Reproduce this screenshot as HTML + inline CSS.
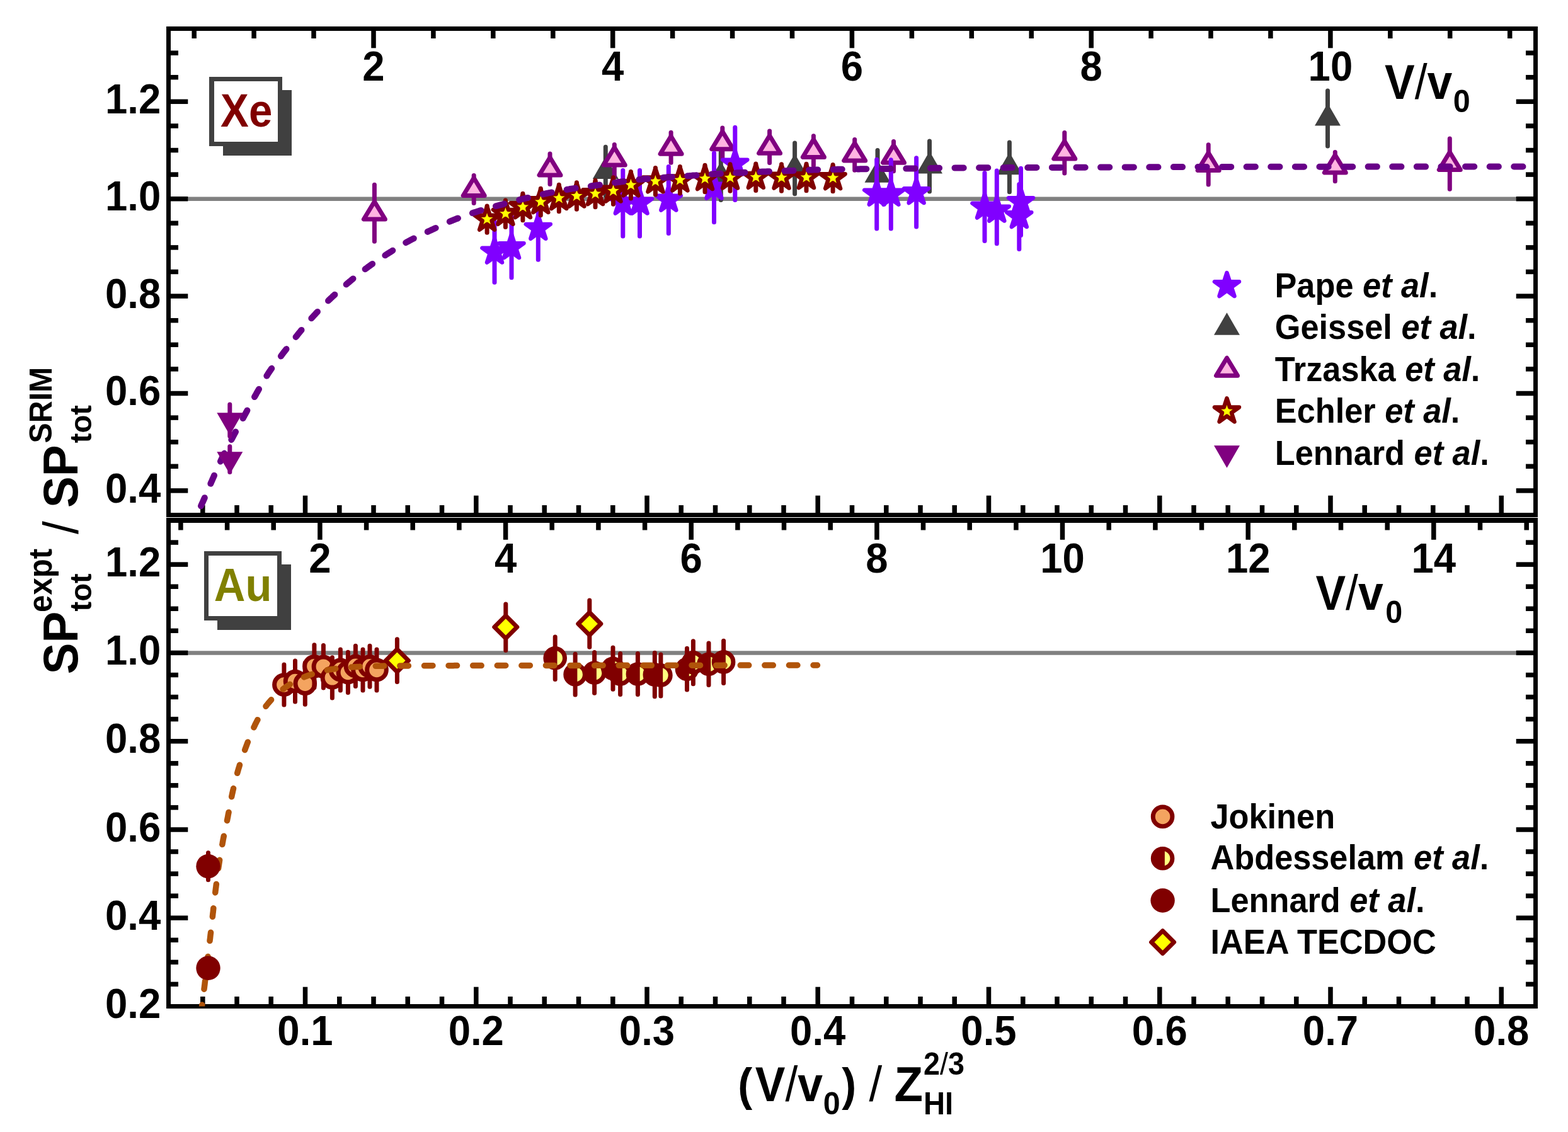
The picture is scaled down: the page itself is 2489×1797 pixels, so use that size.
<!DOCTYPE html>
<html><head><meta charset="utf-8"><title>Stopping power ratio SP expt / SP SRIM for Xe and Au ions</title>
<style>html,body{margin:0;padding:0;background:#fff;overflow:hidden;} svg{display:block;}</style>
</head><body>
<svg width="2489" height="1797" viewBox="0 0 2489 1797" font-family="'Liberation Sans',Arial,Helvetica,sans-serif" font-weight="bold">
<defs><clipPath id="ct"><rect x="267.5" y="45.5" width="2170" height="772"/></clipPath><clipPath id="cl"><rect x="267.5" y="826" width="2170" height="771.5"/></clipPath></defs>
<line x1="267.5" y1="315.7" x2="2437.5" y2="315.7" stroke="#808080" stroke-width="6.5"/>
<line x1="267.5" y1="1036.4" x2="2437.5" y2="1036.4" stroke="#808080" stroke-width="6.5"/>
<line x1="267.5" y1="778.9" x2="298.3" y2="778.9" stroke="#000" stroke-width="7.5"/>
<line x1="2437.5" y1="778.9" x2="2406.7" y2="778.9" stroke="#000" stroke-width="7.5"/>
<line x1="267.5" y1="740.3" x2="283.0" y2="740.3" stroke="#000" stroke-width="7.5"/>
<line x1="2437.5" y1="740.3" x2="2422.0" y2="740.3" stroke="#000" stroke-width="7.5"/>
<line x1="267.5" y1="701.7" x2="283.0" y2="701.7" stroke="#000" stroke-width="7.5"/>
<line x1="2437.5" y1="701.7" x2="2422.0" y2="701.7" stroke="#000" stroke-width="7.5"/>
<line x1="267.5" y1="663.1" x2="283.0" y2="663.1" stroke="#000" stroke-width="7.5"/>
<line x1="2437.5" y1="663.1" x2="2422.0" y2="663.1" stroke="#000" stroke-width="7.5"/>
<line x1="267.5" y1="624.5" x2="298.3" y2="624.5" stroke="#000" stroke-width="7.5"/>
<line x1="2437.5" y1="624.5" x2="2406.7" y2="624.5" stroke="#000" stroke-width="7.5"/>
<line x1="267.5" y1="585.9" x2="283.0" y2="585.9" stroke="#000" stroke-width="7.5"/>
<line x1="2437.5" y1="585.9" x2="2422.0" y2="585.9" stroke="#000" stroke-width="7.5"/>
<line x1="267.5" y1="547.3" x2="283.0" y2="547.3" stroke="#000" stroke-width="7.5"/>
<line x1="2437.5" y1="547.3" x2="2422.0" y2="547.3" stroke="#000" stroke-width="7.5"/>
<line x1="267.5" y1="508.7" x2="283.0" y2="508.7" stroke="#000" stroke-width="7.5"/>
<line x1="2437.5" y1="508.7" x2="2422.0" y2="508.7" stroke="#000" stroke-width="7.5"/>
<line x1="267.5" y1="470.1" x2="298.3" y2="470.1" stroke="#000" stroke-width="7.5"/>
<line x1="2437.5" y1="470.1" x2="2406.7" y2="470.1" stroke="#000" stroke-width="7.5"/>
<line x1="267.5" y1="431.5" x2="283.0" y2="431.5" stroke="#000" stroke-width="7.5"/>
<line x1="2437.5" y1="431.5" x2="2422.0" y2="431.5" stroke="#000" stroke-width="7.5"/>
<line x1="267.5" y1="392.9" x2="283.0" y2="392.9" stroke="#000" stroke-width="7.5"/>
<line x1="2437.5" y1="392.9" x2="2422.0" y2="392.9" stroke="#000" stroke-width="7.5"/>
<line x1="267.5" y1="354.3" x2="283.0" y2="354.3" stroke="#000" stroke-width="7.5"/>
<line x1="2437.5" y1="354.3" x2="2422.0" y2="354.3" stroke="#000" stroke-width="7.5"/>
<line x1="267.5" y1="315.7" x2="298.3" y2="315.7" stroke="#000" stroke-width="7.5"/>
<line x1="2437.5" y1="315.7" x2="2406.7" y2="315.7" stroke="#000" stroke-width="7.5"/>
<line x1="267.5" y1="277.1" x2="283.0" y2="277.1" stroke="#000" stroke-width="7.5"/>
<line x1="2437.5" y1="277.1" x2="2422.0" y2="277.1" stroke="#000" stroke-width="7.5"/>
<line x1="267.5" y1="238.5" x2="283.0" y2="238.5" stroke="#000" stroke-width="7.5"/>
<line x1="2437.5" y1="238.5" x2="2422.0" y2="238.5" stroke="#000" stroke-width="7.5"/>
<line x1="267.5" y1="199.9" x2="283.0" y2="199.9" stroke="#000" stroke-width="7.5"/>
<line x1="2437.5" y1="199.9" x2="2422.0" y2="199.9" stroke="#000" stroke-width="7.5"/>
<line x1="267.5" y1="161.3" x2="298.3" y2="161.3" stroke="#000" stroke-width="7.5"/>
<line x1="2437.5" y1="161.3" x2="2406.7" y2="161.3" stroke="#000" stroke-width="7.5"/>
<line x1="267.5" y1="122.7" x2="283.0" y2="122.7" stroke="#000" stroke-width="7.5"/>
<line x1="2437.5" y1="122.7" x2="2422.0" y2="122.7" stroke="#000" stroke-width="7.5"/>
<line x1="267.5" y1="84.1" x2="283.0" y2="84.1" stroke="#000" stroke-width="7.5"/>
<line x1="2437.5" y1="84.1" x2="2422.0" y2="84.1" stroke="#000" stroke-width="7.5"/>
<line x1="267.5" y1="1562.4" x2="283.0" y2="1562.4" stroke="#000" stroke-width="7.5"/>
<line x1="2437.5" y1="1562.4" x2="2422.0" y2="1562.4" stroke="#000" stroke-width="7.5"/>
<line x1="267.5" y1="1527.4" x2="283.0" y2="1527.4" stroke="#000" stroke-width="7.5"/>
<line x1="2437.5" y1="1527.4" x2="2422.0" y2="1527.4" stroke="#000" stroke-width="7.5"/>
<line x1="267.5" y1="1492.3" x2="283.0" y2="1492.3" stroke="#000" stroke-width="7.5"/>
<line x1="2437.5" y1="1492.3" x2="2422.0" y2="1492.3" stroke="#000" stroke-width="7.5"/>
<line x1="267.5" y1="1457.2" x2="298.3" y2="1457.2" stroke="#000" stroke-width="7.5"/>
<line x1="2437.5" y1="1457.2" x2="2406.7" y2="1457.2" stroke="#000" stroke-width="7.5"/>
<line x1="267.5" y1="1422.2" x2="283.0" y2="1422.2" stroke="#000" stroke-width="7.5"/>
<line x1="2437.5" y1="1422.2" x2="2422.0" y2="1422.2" stroke="#000" stroke-width="7.5"/>
<line x1="267.5" y1="1387.1" x2="283.0" y2="1387.1" stroke="#000" stroke-width="7.5"/>
<line x1="2437.5" y1="1387.1" x2="2422.0" y2="1387.1" stroke="#000" stroke-width="7.5"/>
<line x1="267.5" y1="1352.0" x2="283.0" y2="1352.0" stroke="#000" stroke-width="7.5"/>
<line x1="2437.5" y1="1352.0" x2="2422.0" y2="1352.0" stroke="#000" stroke-width="7.5"/>
<line x1="267.5" y1="1317.0" x2="298.3" y2="1317.0" stroke="#000" stroke-width="7.5"/>
<line x1="2437.5" y1="1317.0" x2="2406.7" y2="1317.0" stroke="#000" stroke-width="7.5"/>
<line x1="267.5" y1="1281.9" x2="283.0" y2="1281.9" stroke="#000" stroke-width="7.5"/>
<line x1="2437.5" y1="1281.9" x2="2422.0" y2="1281.9" stroke="#000" stroke-width="7.5"/>
<line x1="267.5" y1="1246.8" x2="283.0" y2="1246.8" stroke="#000" stroke-width="7.5"/>
<line x1="2437.5" y1="1246.8" x2="2422.0" y2="1246.8" stroke="#000" stroke-width="7.5"/>
<line x1="267.5" y1="1211.8" x2="283.0" y2="1211.8" stroke="#000" stroke-width="7.5"/>
<line x1="2437.5" y1="1211.8" x2="2422.0" y2="1211.8" stroke="#000" stroke-width="7.5"/>
<line x1="267.5" y1="1176.7" x2="298.3" y2="1176.7" stroke="#000" stroke-width="7.5"/>
<line x1="2437.5" y1="1176.7" x2="2406.7" y2="1176.7" stroke="#000" stroke-width="7.5"/>
<line x1="267.5" y1="1141.6" x2="283.0" y2="1141.6" stroke="#000" stroke-width="7.5"/>
<line x1="2437.5" y1="1141.6" x2="2422.0" y2="1141.6" stroke="#000" stroke-width="7.5"/>
<line x1="267.5" y1="1106.5" x2="283.0" y2="1106.5" stroke="#000" stroke-width="7.5"/>
<line x1="2437.5" y1="1106.5" x2="2422.0" y2="1106.5" stroke="#000" stroke-width="7.5"/>
<line x1="267.5" y1="1071.5" x2="283.0" y2="1071.5" stroke="#000" stroke-width="7.5"/>
<line x1="2437.5" y1="1071.5" x2="2422.0" y2="1071.5" stroke="#000" stroke-width="7.5"/>
<line x1="267.5" y1="1036.4" x2="298.3" y2="1036.4" stroke="#000" stroke-width="7.5"/>
<line x1="2437.5" y1="1036.4" x2="2406.7" y2="1036.4" stroke="#000" stroke-width="7.5"/>
<line x1="267.5" y1="1001.3" x2="283.0" y2="1001.3" stroke="#000" stroke-width="7.5"/>
<line x1="2437.5" y1="1001.3" x2="2422.0" y2="1001.3" stroke="#000" stroke-width="7.5"/>
<line x1="267.5" y1="966.3" x2="283.0" y2="966.3" stroke="#000" stroke-width="7.5"/>
<line x1="2437.5" y1="966.3" x2="2422.0" y2="966.3" stroke="#000" stroke-width="7.5"/>
<line x1="267.5" y1="931.2" x2="283.0" y2="931.2" stroke="#000" stroke-width="7.5"/>
<line x1="2437.5" y1="931.2" x2="2422.0" y2="931.2" stroke="#000" stroke-width="7.5"/>
<line x1="267.5" y1="896.1" x2="298.3" y2="896.1" stroke="#000" stroke-width="7.5"/>
<line x1="2437.5" y1="896.1" x2="2406.7" y2="896.1" stroke="#000" stroke-width="7.5"/>
<line x1="267.5" y1="861.1" x2="283.0" y2="861.1" stroke="#000" stroke-width="7.5"/>
<line x1="2437.5" y1="861.1" x2="2422.0" y2="861.1" stroke="#000" stroke-width="7.5"/>
<line x1="321.8" y1="817.5" x2="321.8" y2="802.0" stroke="#000" stroke-width="7.5"/>
<line x1="321.8" y1="1597.5" x2="321.8" y2="1582.0" stroke="#000" stroke-width="7.5"/>
<line x1="376.0" y1="817.5" x2="376.0" y2="802.0" stroke="#000" stroke-width="7.5"/>
<line x1="376.0" y1="1597.5" x2="376.0" y2="1582.0" stroke="#000" stroke-width="7.5"/>
<line x1="430.2" y1="817.5" x2="430.2" y2="802.0" stroke="#000" stroke-width="7.5"/>
<line x1="430.2" y1="1597.5" x2="430.2" y2="1582.0" stroke="#000" stroke-width="7.5"/>
<line x1="484.5" y1="817.5" x2="484.5" y2="786.7" stroke="#000" stroke-width="7.5"/>
<line x1="484.5" y1="1597.5" x2="484.5" y2="1566.7" stroke="#000" stroke-width="7.5"/>
<line x1="538.8" y1="817.5" x2="538.8" y2="802.0" stroke="#000" stroke-width="7.5"/>
<line x1="538.8" y1="1597.5" x2="538.8" y2="1582.0" stroke="#000" stroke-width="7.5"/>
<line x1="593.0" y1="817.5" x2="593.0" y2="802.0" stroke="#000" stroke-width="7.5"/>
<line x1="593.0" y1="1597.5" x2="593.0" y2="1582.0" stroke="#000" stroke-width="7.5"/>
<line x1="647.2" y1="817.5" x2="647.2" y2="802.0" stroke="#000" stroke-width="7.5"/>
<line x1="647.2" y1="1597.5" x2="647.2" y2="1582.0" stroke="#000" stroke-width="7.5"/>
<line x1="701.5" y1="817.5" x2="701.5" y2="802.0" stroke="#000" stroke-width="7.5"/>
<line x1="701.5" y1="1597.5" x2="701.5" y2="1582.0" stroke="#000" stroke-width="7.5"/>
<line x1="755.8" y1="817.5" x2="755.8" y2="786.7" stroke="#000" stroke-width="7.5"/>
<line x1="755.8" y1="1597.5" x2="755.8" y2="1566.7" stroke="#000" stroke-width="7.5"/>
<line x1="810.0" y1="817.5" x2="810.0" y2="802.0" stroke="#000" stroke-width="7.5"/>
<line x1="810.0" y1="1597.5" x2="810.0" y2="1582.0" stroke="#000" stroke-width="7.5"/>
<line x1="864.2" y1="817.5" x2="864.2" y2="802.0" stroke="#000" stroke-width="7.5"/>
<line x1="864.2" y1="1597.5" x2="864.2" y2="1582.0" stroke="#000" stroke-width="7.5"/>
<line x1="918.5" y1="817.5" x2="918.5" y2="802.0" stroke="#000" stroke-width="7.5"/>
<line x1="918.5" y1="1597.5" x2="918.5" y2="1582.0" stroke="#000" stroke-width="7.5"/>
<line x1="972.8" y1="817.5" x2="972.8" y2="802.0" stroke="#000" stroke-width="7.5"/>
<line x1="972.8" y1="1597.5" x2="972.8" y2="1582.0" stroke="#000" stroke-width="7.5"/>
<line x1="1027.0" y1="817.5" x2="1027.0" y2="786.7" stroke="#000" stroke-width="7.5"/>
<line x1="1027.0" y1="1597.5" x2="1027.0" y2="1566.7" stroke="#000" stroke-width="7.5"/>
<line x1="1081.2" y1="817.5" x2="1081.2" y2="802.0" stroke="#000" stroke-width="7.5"/>
<line x1="1081.2" y1="1597.5" x2="1081.2" y2="1582.0" stroke="#000" stroke-width="7.5"/>
<line x1="1135.5" y1="817.5" x2="1135.5" y2="802.0" stroke="#000" stroke-width="7.5"/>
<line x1="1135.5" y1="1597.5" x2="1135.5" y2="1582.0" stroke="#000" stroke-width="7.5"/>
<line x1="1189.8" y1="817.5" x2="1189.8" y2="802.0" stroke="#000" stroke-width="7.5"/>
<line x1="1189.8" y1="1597.5" x2="1189.8" y2="1582.0" stroke="#000" stroke-width="7.5"/>
<line x1="1244.0" y1="817.5" x2="1244.0" y2="802.0" stroke="#000" stroke-width="7.5"/>
<line x1="1244.0" y1="1597.5" x2="1244.0" y2="1582.0" stroke="#000" stroke-width="7.5"/>
<line x1="1298.2" y1="817.5" x2="1298.2" y2="786.7" stroke="#000" stroke-width="7.5"/>
<line x1="1298.2" y1="1597.5" x2="1298.2" y2="1566.7" stroke="#000" stroke-width="7.5"/>
<line x1="1352.5" y1="817.5" x2="1352.5" y2="802.0" stroke="#000" stroke-width="7.5"/>
<line x1="1352.5" y1="1597.5" x2="1352.5" y2="1582.0" stroke="#000" stroke-width="7.5"/>
<line x1="1406.8" y1="817.5" x2="1406.8" y2="802.0" stroke="#000" stroke-width="7.5"/>
<line x1="1406.8" y1="1597.5" x2="1406.8" y2="1582.0" stroke="#000" stroke-width="7.5"/>
<line x1="1461.0" y1="817.5" x2="1461.0" y2="802.0" stroke="#000" stroke-width="7.5"/>
<line x1="1461.0" y1="1597.5" x2="1461.0" y2="1582.0" stroke="#000" stroke-width="7.5"/>
<line x1="1515.2" y1="817.5" x2="1515.2" y2="802.0" stroke="#000" stroke-width="7.5"/>
<line x1="1515.2" y1="1597.5" x2="1515.2" y2="1582.0" stroke="#000" stroke-width="7.5"/>
<line x1="1569.5" y1="817.5" x2="1569.5" y2="786.7" stroke="#000" stroke-width="7.5"/>
<line x1="1569.5" y1="1597.5" x2="1569.5" y2="1566.7" stroke="#000" stroke-width="7.5"/>
<line x1="1623.8" y1="817.5" x2="1623.8" y2="802.0" stroke="#000" stroke-width="7.5"/>
<line x1="1623.8" y1="1597.5" x2="1623.8" y2="1582.0" stroke="#000" stroke-width="7.5"/>
<line x1="1678.0" y1="817.5" x2="1678.0" y2="802.0" stroke="#000" stroke-width="7.5"/>
<line x1="1678.0" y1="1597.5" x2="1678.0" y2="1582.0" stroke="#000" stroke-width="7.5"/>
<line x1="1732.2" y1="817.5" x2="1732.2" y2="802.0" stroke="#000" stroke-width="7.5"/>
<line x1="1732.2" y1="1597.5" x2="1732.2" y2="1582.0" stroke="#000" stroke-width="7.5"/>
<line x1="1786.5" y1="817.5" x2="1786.5" y2="802.0" stroke="#000" stroke-width="7.5"/>
<line x1="1786.5" y1="1597.5" x2="1786.5" y2="1582.0" stroke="#000" stroke-width="7.5"/>
<line x1="1840.8" y1="817.5" x2="1840.8" y2="786.7" stroke="#000" stroke-width="7.5"/>
<line x1="1840.8" y1="1597.5" x2="1840.8" y2="1566.7" stroke="#000" stroke-width="7.5"/>
<line x1="1895.0" y1="817.5" x2="1895.0" y2="802.0" stroke="#000" stroke-width="7.5"/>
<line x1="1895.0" y1="1597.5" x2="1895.0" y2="1582.0" stroke="#000" stroke-width="7.5"/>
<line x1="1949.2" y1="817.5" x2="1949.2" y2="802.0" stroke="#000" stroke-width="7.5"/>
<line x1="1949.2" y1="1597.5" x2="1949.2" y2="1582.0" stroke="#000" stroke-width="7.5"/>
<line x1="2003.5" y1="817.5" x2="2003.5" y2="802.0" stroke="#000" stroke-width="7.5"/>
<line x1="2003.5" y1="1597.5" x2="2003.5" y2="1582.0" stroke="#000" stroke-width="7.5"/>
<line x1="2057.8" y1="817.5" x2="2057.8" y2="802.0" stroke="#000" stroke-width="7.5"/>
<line x1="2057.8" y1="1597.5" x2="2057.8" y2="1582.0" stroke="#000" stroke-width="7.5"/>
<line x1="2112.0" y1="817.5" x2="2112.0" y2="786.7" stroke="#000" stroke-width="7.5"/>
<line x1="2112.0" y1="1597.5" x2="2112.0" y2="1566.7" stroke="#000" stroke-width="7.5"/>
<line x1="2166.2" y1="817.5" x2="2166.2" y2="802.0" stroke="#000" stroke-width="7.5"/>
<line x1="2166.2" y1="1597.5" x2="2166.2" y2="1582.0" stroke="#000" stroke-width="7.5"/>
<line x1="2220.5" y1="817.5" x2="2220.5" y2="802.0" stroke="#000" stroke-width="7.5"/>
<line x1="2220.5" y1="1597.5" x2="2220.5" y2="1582.0" stroke="#000" stroke-width="7.5"/>
<line x1="2274.8" y1="817.5" x2="2274.8" y2="802.0" stroke="#000" stroke-width="7.5"/>
<line x1="2274.8" y1="1597.5" x2="2274.8" y2="1582.0" stroke="#000" stroke-width="7.5"/>
<line x1="2329.0" y1="817.5" x2="2329.0" y2="802.0" stroke="#000" stroke-width="7.5"/>
<line x1="2329.0" y1="1597.5" x2="2329.0" y2="1582.0" stroke="#000" stroke-width="7.5"/>
<line x1="2383.2" y1="817.5" x2="2383.2" y2="786.7" stroke="#000" stroke-width="7.5"/>
<line x1="2383.2" y1="1597.5" x2="2383.2" y2="1566.7" stroke="#000" stroke-width="7.5"/>
<line x1="308.2" y1="45.5" x2="308.2" y2="61.0" stroke="#000" stroke-width="7.5"/>
<line x1="403.1" y1="45.5" x2="403.1" y2="61.0" stroke="#000" stroke-width="7.5"/>
<line x1="498.0" y1="45.5" x2="498.0" y2="61.0" stroke="#000" stroke-width="7.5"/>
<line x1="593.0" y1="45.5" x2="593.0" y2="76.3" stroke="#000" stroke-width="7.5"/>
<line x1="687.9" y1="45.5" x2="687.9" y2="61.0" stroke="#000" stroke-width="7.5"/>
<line x1="782.8" y1="45.5" x2="782.8" y2="61.0" stroke="#000" stroke-width="7.5"/>
<line x1="877.8" y1="45.5" x2="877.8" y2="61.0" stroke="#000" stroke-width="7.5"/>
<line x1="972.7" y1="45.5" x2="972.7" y2="76.3" stroke="#000" stroke-width="7.5"/>
<line x1="1067.6" y1="45.5" x2="1067.6" y2="61.0" stroke="#000" stroke-width="7.5"/>
<line x1="1162.6" y1="45.5" x2="1162.6" y2="61.0" stroke="#000" stroke-width="7.5"/>
<line x1="1257.5" y1="45.5" x2="1257.5" y2="61.0" stroke="#000" stroke-width="7.5"/>
<line x1="1352.4" y1="45.5" x2="1352.4" y2="76.3" stroke="#000" stroke-width="7.5"/>
<line x1="1447.4" y1="45.5" x2="1447.4" y2="61.0" stroke="#000" stroke-width="7.5"/>
<line x1="1542.3" y1="45.5" x2="1542.3" y2="61.0" stroke="#000" stroke-width="7.5"/>
<line x1="1637.2" y1="45.5" x2="1637.2" y2="61.0" stroke="#000" stroke-width="7.5"/>
<line x1="1732.2" y1="45.5" x2="1732.2" y2="76.3" stroke="#000" stroke-width="7.5"/>
<line x1="1827.1" y1="45.5" x2="1827.1" y2="61.0" stroke="#000" stroke-width="7.5"/>
<line x1="1922.0" y1="45.5" x2="1922.0" y2="61.0" stroke="#000" stroke-width="7.5"/>
<line x1="2016.9" y1="45.5" x2="2016.9" y2="61.0" stroke="#000" stroke-width="7.5"/>
<line x1="2111.9" y1="45.5" x2="2111.9" y2="76.3" stroke="#000" stroke-width="7.5"/>
<line x1="2206.8" y1="45.5" x2="2206.8" y2="61.0" stroke="#000" stroke-width="7.5"/>
<line x1="2301.7" y1="45.5" x2="2301.7" y2="61.0" stroke="#000" stroke-width="7.5"/>
<line x1="2396.7" y1="45.5" x2="2396.7" y2="61.0" stroke="#000" stroke-width="7.5"/>
<line x1="286.9" y1="826.0" x2="286.9" y2="841.5" stroke="#000" stroke-width="7.5"/>
<line x1="360.6" y1="826.0" x2="360.6" y2="841.5" stroke="#000" stroke-width="7.5"/>
<line x1="434.2" y1="826.0" x2="434.2" y2="841.5" stroke="#000" stroke-width="7.5"/>
<line x1="507.9" y1="826.0" x2="507.9" y2="856.8" stroke="#000" stroke-width="7.5"/>
<line x1="581.6" y1="826.0" x2="581.6" y2="841.5" stroke="#000" stroke-width="7.5"/>
<line x1="655.2" y1="826.0" x2="655.2" y2="841.5" stroke="#000" stroke-width="7.5"/>
<line x1="728.9" y1="826.0" x2="728.9" y2="841.5" stroke="#000" stroke-width="7.5"/>
<line x1="802.6" y1="826.0" x2="802.6" y2="856.8" stroke="#000" stroke-width="7.5"/>
<line x1="876.2" y1="826.0" x2="876.2" y2="841.5" stroke="#000" stroke-width="7.5"/>
<line x1="949.9" y1="826.0" x2="949.9" y2="841.5" stroke="#000" stroke-width="7.5"/>
<line x1="1023.6" y1="826.0" x2="1023.6" y2="841.5" stroke="#000" stroke-width="7.5"/>
<line x1="1097.2" y1="826.0" x2="1097.2" y2="856.8" stroke="#000" stroke-width="7.5"/>
<line x1="1170.9" y1="826.0" x2="1170.9" y2="841.5" stroke="#000" stroke-width="7.5"/>
<line x1="1244.5" y1="826.0" x2="1244.5" y2="841.5" stroke="#000" stroke-width="7.5"/>
<line x1="1318.2" y1="826.0" x2="1318.2" y2="841.5" stroke="#000" stroke-width="7.5"/>
<line x1="1391.9" y1="826.0" x2="1391.9" y2="856.8" stroke="#000" stroke-width="7.5"/>
<line x1="1465.5" y1="826.0" x2="1465.5" y2="841.5" stroke="#000" stroke-width="7.5"/>
<line x1="1539.2" y1="826.0" x2="1539.2" y2="841.5" stroke="#000" stroke-width="7.5"/>
<line x1="1612.9" y1="826.0" x2="1612.9" y2="841.5" stroke="#000" stroke-width="7.5"/>
<line x1="1686.5" y1="826.0" x2="1686.5" y2="856.8" stroke="#000" stroke-width="7.5"/>
<line x1="1760.2" y1="826.0" x2="1760.2" y2="841.5" stroke="#000" stroke-width="7.5"/>
<line x1="1833.9" y1="826.0" x2="1833.9" y2="841.5" stroke="#000" stroke-width="7.5"/>
<line x1="1907.5" y1="826.0" x2="1907.5" y2="841.5" stroke="#000" stroke-width="7.5"/>
<line x1="1981.2" y1="826.0" x2="1981.2" y2="856.8" stroke="#000" stroke-width="7.5"/>
<line x1="2054.8" y1="826.0" x2="2054.8" y2="841.5" stroke="#000" stroke-width="7.5"/>
<line x1="2128.5" y1="826.0" x2="2128.5" y2="841.5" stroke="#000" stroke-width="7.5"/>
<line x1="2202.2" y1="826.0" x2="2202.2" y2="841.5" stroke="#000" stroke-width="7.5"/>
<line x1="2275.8" y1="826.0" x2="2275.8" y2="856.8" stroke="#000" stroke-width="7.5"/>
<line x1="2349.5" y1="826.0" x2="2349.5" y2="841.5" stroke="#000" stroke-width="7.5"/>
<line x1="2423.2" y1="826.0" x2="2423.2" y2="841.5" stroke="#000" stroke-width="7.5"/>
<rect x="267.5" y="45.5" width="2170.0" height="772.0" fill="none" stroke="#000" stroke-width="7"/>
<rect x="267.5" y="826.0" width="2170.0" height="771.5" fill="none" stroke="#000" stroke-width="7"/>
<line x1="264.0" y1="826.0" x2="2441.0" y2="826.0" stroke="#000" stroke-width="8"/>
<g clip-path="url(#ct)">
<line x1="961.3" y1="233.2" x2="961.3" y2="310.5" stroke="#404040" stroke-width="7" stroke-linecap="round"/>
<polygon points="961.3,248.5 940.8,284.0 981.8,284.0" fill="#404040"/>
<line x1="1144.3" y1="241.8" x2="1144.3" y2="317.6" stroke="#404040" stroke-width="7" stroke-linecap="round"/>
<polygon points="1144.3,256.2 1123.8,291.7 1164.8,291.7" fill="#404040"/>
<line x1="1261.6" y1="226.9" x2="1261.6" y2="307.8" stroke="#404040" stroke-width="7" stroke-linecap="round"/>
<polygon points="1261.6,243.9 1241.1,279.4 1282.1,279.4" fill="#404040"/>
<line x1="1393.0" y1="238.4" x2="1393.0" y2="317.2" stroke="#404040" stroke-width="7" stroke-linecap="round"/>
<polygon points="1393.0,254.3 1372.5,289.8 1413.5,289.8" fill="#404040"/>
<line x1="1475.5" y1="223.9" x2="1475.5" y2="303.9" stroke="#404040" stroke-width="7" stroke-linecap="round"/>
<polygon points="1475.5,240.1 1455.0,275.6 1496.0,275.6" fill="#404040"/>
<line x1="1602.4" y1="226.1" x2="1602.4" y2="304.8" stroke="#404040" stroke-width="7" stroke-linecap="round"/>
<polygon points="1602.4,241.8 1581.9,277.3 1622.9,277.3" fill="#404040"/>
<line x1="2107.5" y1="143.9" x2="2107.5" y2="231.9" stroke="#404040" stroke-width="7" stroke-linecap="round"/>
<polygon points="2107.5,163.9 2087.0,199.4 2128.0,199.4" fill="#404040"/>
<line x1="594.4" y1="293.3" x2="594.4" y2="383.3" stroke="#800080" stroke-width="7" stroke-linecap="round"/>
<polygon points="594.4,320.0 577.4,348.0 611.4,348.0" fill="#ffb4e1" stroke="#800080" stroke-width="7" stroke-linejoin="round"/>
<line x1="752.2" y1="278.5" x2="752.2" y2="322.6" stroke="#800080" stroke-width="7" stroke-linecap="round"/>
<polygon points="752.2,282.5 735.2,310.5 769.2,310.5" fill="#ffb4e1" stroke="#800080" stroke-width="7" stroke-linejoin="round"/>
<line x1="873.0" y1="244.1" x2="873.0" y2="292.6" stroke="#800080" stroke-width="7" stroke-linecap="round"/>
<polygon points="873.0,250.0 856.0,278.0 890.0,278.0" fill="#ffb4e1" stroke="#800080" stroke-width="7" stroke-linejoin="round"/>
<line x1="975.3" y1="229.4" x2="975.3" y2="279.5" stroke="#800080" stroke-width="7" stroke-linecap="round"/>
<polygon points="975.3,234.0 958.3,262.0 992.3,262.0" fill="#ffb4e1" stroke="#800080" stroke-width="7" stroke-linejoin="round"/>
<line x1="1065.1" y1="210.3" x2="1065.1" y2="258.3" stroke="#800080" stroke-width="7" stroke-linecap="round"/>
<polygon points="1065.1,216.3 1048.1,244.3 1082.1,244.3" fill="#ffb4e1" stroke="#800080" stroke-width="7" stroke-linejoin="round"/>
<line x1="1146.8" y1="203.0" x2="1146.8" y2="250.6" stroke="#800080" stroke-width="7" stroke-linecap="round"/>
<polygon points="1146.8,208.8 1129.8,236.8 1163.8,236.8" fill="#ffb4e1" stroke="#800080" stroke-width="7" stroke-linejoin="round"/>
<line x1="1221.6" y1="207.9" x2="1221.6" y2="258.6" stroke="#800080" stroke-width="7" stroke-linecap="round"/>
<polygon points="1221.6,215.2 1204.6,243.2 1238.6,243.2" fill="#ffb4e1" stroke="#800080" stroke-width="7" stroke-linejoin="round"/>
<line x1="1291.4" y1="215.7" x2="1291.4" y2="263.1" stroke="#800080" stroke-width="7" stroke-linecap="round"/>
<polygon points="1291.4,221.4 1274.4,249.4 1308.4,249.4" fill="#ffb4e1" stroke="#800080" stroke-width="7" stroke-linejoin="round"/>
<line x1="1356.7" y1="221.6" x2="1356.7" y2="270.3" stroke="#800080" stroke-width="7" stroke-linecap="round"/>
<polygon points="1356.7,227.0 1339.7,255.0 1373.7,255.0" fill="#ffb4e1" stroke="#800080" stroke-width="7" stroke-linejoin="round"/>
<line x1="1418.5" y1="224.6" x2="1418.5" y2="271.8" stroke="#800080" stroke-width="7" stroke-linecap="round"/>
<polygon points="1418.5,230.2 1401.5,258.2 1435.5,258.2" fill="#ffb4e1" stroke="#800080" stroke-width="7" stroke-linejoin="round"/>
<line x1="1689.8" y1="210.4" x2="1689.8" y2="275.1" stroke="#800080" stroke-width="7" stroke-linecap="round"/>
<polygon points="1689.8,224.0 1672.8,252.0 1706.8,252.0" fill="#ffb4e1" stroke="#800080" stroke-width="7" stroke-linejoin="round"/>
<line x1="1918.2" y1="229.8" x2="1918.2" y2="293.0" stroke="#800080" stroke-width="7" stroke-linecap="round"/>
<polygon points="1918.2,242.5 1901.2,270.5 1935.2,270.5" fill="#ffb4e1" stroke="#800080" stroke-width="7" stroke-linejoin="round"/>
<line x1="2119.3" y1="241.5" x2="2119.3" y2="287.8" stroke="#800080" stroke-width="7" stroke-linecap="round"/>
<polygon points="2119.3,246.0 2102.3,274.0 2136.3,274.0" fill="#ffb4e1" stroke="#800080" stroke-width="7" stroke-linejoin="round"/>
<line x1="2301.3" y1="219.9" x2="2301.3" y2="300.3" stroke="#800080" stroke-width="7" stroke-linecap="round"/>
<polygon points="2301.3,241.5 2284.3,269.5 2318.3,269.5" fill="#ffb4e1" stroke="#800080" stroke-width="7" stroke-linejoin="round"/>
<line x1="785.0" y1="351.8" x2="785.0" y2="448.2" stroke="#8000ff" stroke-width="7" stroke-linecap="round"/>
<polygon points="785.0,379.5 789.6,393.7 804.5,393.7 792.4,402.4 797.0,416.6 785.0,407.8 773.0,416.6 777.6,402.4 765.5,393.7 780.4,393.7" fill="#8000ff" stroke="#8000ff" stroke-width="6.5" stroke-linejoin="round"/>
<line x1="812.0" y1="344.3" x2="812.0" y2="440.7" stroke="#8000ff" stroke-width="7" stroke-linecap="round"/>
<polygon points="812.0,372.0 816.6,386.2 831.5,386.2 819.4,394.9 824.0,409.1 812.0,400.3 800.0,409.1 804.6,394.9 792.5,386.2 807.4,386.2" fill="#8000ff" stroke="#8000ff" stroke-width="6.5" stroke-linejoin="round"/>
<line x1="854.3" y1="312.2" x2="854.3" y2="412.2" stroke="#8000ff" stroke-width="7" stroke-linecap="round"/>
<polygon points="854.3,341.7 858.9,355.9 873.8,355.9 861.7,364.6 866.3,378.8 854.3,370.0 842.3,378.8 846.9,364.6 834.8,355.9 849.7,355.9" fill="#8000ff" stroke="#8000ff" stroke-width="6.5" stroke-linejoin="round"/>
<line x1="988.8" y1="270.6" x2="988.8" y2="375.0" stroke="#8000ff" stroke-width="7" stroke-linecap="round"/>
<polygon points="988.8,301.5 993.4,315.7 1008.3,315.7 996.2,324.4 1000.8,338.6 988.8,329.8 976.8,338.6 981.4,324.4 969.3,315.7 984.2,315.7" fill="#8000ff" stroke="#8000ff" stroke-width="6.5" stroke-linejoin="round"/>
<line x1="1015.5" y1="270.6" x2="1015.5" y2="375.0" stroke="#8000ff" stroke-width="7" stroke-linecap="round"/>
<polygon points="1015.5,301.5 1020.1,315.7 1035.0,315.7 1022.9,324.4 1027.5,338.6 1015.5,329.8 1003.5,338.6 1008.1,324.4 996.0,315.7 1010.9,315.7" fill="#8000ff" stroke="#8000ff" stroke-width="6.5" stroke-linejoin="round"/>
<line x1="1061.3" y1="264.5" x2="1061.3" y2="370.5" stroke="#8000ff" stroke-width="7" stroke-linecap="round"/>
<polygon points="1061.3,296.5 1065.9,310.7 1080.8,310.7 1068.7,319.4 1073.3,333.6 1061.3,324.8 1049.3,333.6 1053.9,319.4 1041.8,310.7 1056.7,310.7" fill="#8000ff" stroke="#8000ff" stroke-width="6.5" stroke-linejoin="round"/>
<line x1="1133.5" y1="243.1" x2="1133.5" y2="352.7" stroke="#8000ff" stroke-width="7" stroke-linecap="round"/>
<polygon points="1133.5,277.5 1138.1,291.7 1153.0,291.7 1140.9,300.4 1145.5,314.6 1133.5,305.8 1121.5,314.6 1126.1,300.4 1114.0,291.7 1128.9,291.7" fill="#8000ff" stroke="#8000ff" stroke-width="6.5" stroke-linejoin="round"/>
<line x1="1166.8" y1="202.3" x2="1166.8" y2="317.6" stroke="#8000ff" stroke-width="7" stroke-linecap="round"/>
<polygon points="1166.8,239.5 1171.4,253.7 1186.3,253.7 1174.2,262.4 1178.8,276.6 1166.8,267.8 1154.8,276.6 1159.4,262.4 1147.3,253.7 1162.2,253.7" fill="#8000ff" stroke="#8000ff" stroke-width="6.5" stroke-linejoin="round"/>
<line x1="1391.7" y1="253.3" x2="1391.7" y2="363.1" stroke="#8000ff" stroke-width="7" stroke-linecap="round"/>
<polygon points="1391.7,287.5 1396.3,301.7 1411.2,301.7 1399.1,310.4 1403.7,324.6 1391.7,315.8 1379.7,324.6 1384.3,310.4 1372.2,301.7 1387.1,301.7" fill="#8000ff" stroke="#8000ff" stroke-width="6.5" stroke-linejoin="round"/>
<line x1="1414.3" y1="253.8" x2="1414.3" y2="363.1" stroke="#8000ff" stroke-width="7" stroke-linecap="round"/>
<polygon points="1414.3,287.6 1418.9,301.8 1433.8,301.8 1421.7,310.5 1426.3,324.7 1414.3,315.9 1402.3,324.7 1406.9,310.5 1394.8,301.8 1409.7,301.8" fill="#8000ff" stroke="#8000ff" stroke-width="6.5" stroke-linejoin="round"/>
<line x1="1454.6" y1="250.8" x2="1454.6" y2="360.1" stroke="#8000ff" stroke-width="7" stroke-linecap="round"/>
<polygon points="1454.6,285.0 1459.2,299.2 1474.1,299.2 1462.0,307.9 1466.6,322.1 1454.6,313.3 1442.6,322.1 1447.2,307.9 1435.1,299.2 1450.0,299.2" fill="#8000ff" stroke="#8000ff" stroke-width="6.5" stroke-linejoin="round"/>
<line x1="1563.0" y1="274.5" x2="1563.0" y2="382.5" stroke="#8000ff" stroke-width="7" stroke-linecap="round"/>
<polygon points="1563.0,308.5 1567.6,322.7 1582.5,322.7 1570.4,331.4 1575.0,345.6 1563.0,336.8 1551.0,345.6 1555.6,331.4 1543.5,322.7 1558.4,322.7" fill="#8000ff" stroke="#8000ff" stroke-width="6.5" stroke-linejoin="round"/>
<line x1="1582.3" y1="271.1" x2="1582.3" y2="386.8" stroke="#8000ff" stroke-width="7" stroke-linecap="round"/>
<polygon points="1582.3,313.5 1586.9,327.7 1601.8,327.7 1589.7,336.4 1594.3,350.6 1582.3,341.8 1570.3,350.6 1574.9,336.4 1562.8,327.7 1577.7,327.7" fill="#8000ff" stroke="#8000ff" stroke-width="6.5" stroke-linejoin="round"/>
<line x1="1620.5" y1="267.2" x2="1620.5" y2="373.5" stroke="#8000ff" stroke-width="7" stroke-linecap="round"/>
<polygon points="1620.5,300.0 1625.1,314.2 1640.0,314.2 1627.9,322.9 1632.5,337.1 1620.5,328.3 1608.5,337.1 1613.1,322.9 1601.0,314.2 1615.9,314.2" fill="#8000ff" stroke="#8000ff" stroke-width="6.5" stroke-linejoin="round"/>
<line x1="1617.8" y1="292.5" x2="1617.8" y2="395.5" stroke="#8000ff" stroke-width="7" stroke-linecap="round"/>
<polygon points="1617.8,323.0 1622.4,337.2 1637.3,337.2 1625.2,345.9 1629.8,360.1 1617.8,351.3 1605.8,360.1 1610.4,345.9 1598.3,337.2 1613.2,337.2" fill="#8000ff" stroke="#8000ff" stroke-width="6.5" stroke-linejoin="round"/>
<line x1="773.1" y1="326.9" x2="773.1" y2="369.3" stroke="#800000" stroke-width="7" stroke-linecap="round"/>
<polygon points="773.1,327.6 777.7,341.8 792.6,341.8 780.5,350.5 785.1,364.7 773.1,355.9 761.1,364.7 765.7,350.5 753.6,341.8 768.5,341.8" fill="#ffff00" stroke="#800000" stroke-width="6.5" stroke-linejoin="round"/>
<line x1="802.4" y1="318.0" x2="802.4" y2="360.4" stroke="#800000" stroke-width="7" stroke-linecap="round"/>
<polygon points="802.4,318.7 807.0,332.9 821.9,332.9 809.8,341.6 814.4,355.8 802.4,347.0 790.4,355.8 795.0,341.6 782.9,332.9 797.8,332.9" fill="#ffff00" stroke="#800000" stroke-width="6.5" stroke-linejoin="round"/>
<line x1="829.9" y1="307.3" x2="829.9" y2="349.7" stroke="#800000" stroke-width="7" stroke-linecap="round"/>
<polygon points="829.9,308.0 834.5,322.2 849.4,322.2 837.3,330.9 841.9,345.1 829.9,336.3 817.9,345.1 822.5,330.9 810.4,322.2 825.3,322.2" fill="#ffff00" stroke="#800000" stroke-width="6.5" stroke-linejoin="round"/>
<line x1="858.3" y1="299.3" x2="858.3" y2="341.7" stroke="#800000" stroke-width="7" stroke-linecap="round"/>
<polygon points="858.3,300.0 862.9,314.2 877.8,314.2 865.7,322.9 870.3,337.1 858.3,328.3 846.3,337.1 850.9,322.9 838.8,314.2 853.7,314.2" fill="#ffff00" stroke="#800000" stroke-width="6.5" stroke-linejoin="round"/>
<line x1="887.3" y1="293.3" x2="887.3" y2="335.7" stroke="#800000" stroke-width="7" stroke-linecap="round"/>
<polygon points="887.3,294.0 891.9,308.2 906.8,308.2 894.7,316.9 899.3,331.1 887.3,322.3 875.3,331.1 879.9,316.9 867.8,308.2 882.7,308.2" fill="#ffff00" stroke="#800000" stroke-width="6.5" stroke-linejoin="round"/>
<line x1="915.4" y1="289.8" x2="915.4" y2="332.2" stroke="#800000" stroke-width="7" stroke-linecap="round"/>
<polygon points="915.4,290.5 920.0,304.7 934.9,304.7 922.8,313.4 927.4,327.6 915.4,318.8 903.4,327.6 908.0,313.4 895.9,304.7 910.8,304.7" fill="#ffff00" stroke="#800000" stroke-width="6.5" stroke-linejoin="round"/>
<line x1="945.0" y1="286.3" x2="945.0" y2="328.7" stroke="#800000" stroke-width="7" stroke-linecap="round"/>
<polygon points="945.0,287.0 949.6,301.2 964.5,301.2 952.4,309.9 957.0,324.1 945.0,315.3 933.0,324.1 937.6,309.9 925.5,301.2 940.4,301.2" fill="#ffff00" stroke="#800000" stroke-width="6.5" stroke-linejoin="round"/>
<line x1="973.5" y1="281.8" x2="973.5" y2="324.2" stroke="#800000" stroke-width="7" stroke-linecap="round"/>
<polygon points="973.5,282.5 978.1,296.7 993.0,296.7 980.9,305.4 985.5,319.6 973.5,310.8 961.5,319.6 966.1,305.4 954.0,296.7 968.9,296.7" fill="#ffff00" stroke="#800000" stroke-width="6.5" stroke-linejoin="round"/>
<line x1="1001.4" y1="272.6" x2="1001.4" y2="315.0" stroke="#800000" stroke-width="7" stroke-linecap="round"/>
<polygon points="1001.4,273.3 1006.0,287.5 1020.9,287.5 1008.8,296.2 1013.4,310.4 1001.4,301.6 989.4,310.4 994.0,296.2 981.9,287.5 996.8,287.5" fill="#ffff00" stroke="#800000" stroke-width="6.5" stroke-linejoin="round"/>
<line x1="1040.4" y1="266.6" x2="1040.4" y2="309.0" stroke="#800000" stroke-width="7" stroke-linecap="round"/>
<polygon points="1040.4,267.3 1045.0,281.5 1059.9,281.5 1047.8,290.2 1052.4,304.4 1040.4,295.6 1028.4,304.4 1033.0,290.2 1020.9,281.5 1035.8,281.5" fill="#ffff00" stroke="#800000" stroke-width="6.5" stroke-linejoin="round"/>
<line x1="1079.4" y1="264.6" x2="1079.4" y2="307.0" stroke="#800000" stroke-width="7" stroke-linecap="round"/>
<polygon points="1079.4,265.3 1084.0,279.5 1098.9,279.5 1086.8,288.2 1091.4,302.4 1079.4,293.6 1067.4,302.4 1072.0,288.2 1059.9,279.5 1074.8,279.5" fill="#ffff00" stroke="#800000" stroke-width="6.5" stroke-linejoin="round"/>
<line x1="1119.0" y1="262.3" x2="1119.0" y2="304.7" stroke="#800000" stroke-width="7" stroke-linecap="round"/>
<polygon points="1119.0,263.0 1123.6,277.2 1138.5,277.2 1126.4,285.9 1131.0,300.1 1119.0,291.3 1107.0,300.1 1111.6,285.9 1099.5,277.2 1114.4,277.2" fill="#ffff00" stroke="#800000" stroke-width="6.5" stroke-linejoin="round"/>
<line x1="1159.0" y1="260.8" x2="1159.0" y2="303.2" stroke="#800000" stroke-width="7" stroke-linecap="round"/>
<polygon points="1159.0,261.5 1163.6,275.7 1178.5,275.7 1166.4,284.4 1171.0,298.6 1159.0,289.8 1147.0,298.6 1151.6,284.4 1139.5,275.7 1154.4,275.7" fill="#ffff00" stroke="#800000" stroke-width="6.5" stroke-linejoin="round"/>
<line x1="1199.8" y1="260.0" x2="1199.8" y2="302.4" stroke="#800000" stroke-width="7" stroke-linecap="round"/>
<polygon points="1199.8,260.7 1204.4,274.9 1219.3,274.9 1207.2,283.6 1211.8,297.8 1199.8,289.0 1187.8,297.8 1192.4,283.6 1180.3,274.9 1195.2,274.9" fill="#ffff00" stroke="#800000" stroke-width="6.5" stroke-linejoin="round"/>
<line x1="1240.5" y1="260.8" x2="1240.5" y2="303.2" stroke="#800000" stroke-width="7" stroke-linecap="round"/>
<polygon points="1240.5,261.5 1245.1,275.7 1260.0,275.7 1247.9,284.4 1252.5,298.6 1240.5,289.8 1228.5,298.6 1233.1,284.4 1221.0,275.7 1235.9,275.7" fill="#ffff00" stroke="#800000" stroke-width="6.5" stroke-linejoin="round"/>
<line x1="1280.0" y1="260.3" x2="1280.0" y2="302.7" stroke="#800000" stroke-width="7" stroke-linecap="round"/>
<polygon points="1280.0,261.0 1284.6,275.2 1299.5,275.2 1287.4,283.9 1292.0,298.1 1280.0,289.3 1268.0,298.1 1272.6,283.9 1260.5,275.2 1275.4,275.2" fill="#ffff00" stroke="#800000" stroke-width="6.5" stroke-linejoin="round"/>
<line x1="1322.1" y1="261.4" x2="1322.1" y2="303.8" stroke="#800000" stroke-width="7" stroke-linecap="round"/>
<polygon points="1322.1,262.1 1326.7,276.3 1341.6,276.3 1329.5,285.0 1334.1,299.2 1322.1,290.4 1310.1,299.2 1314.7,285.0 1302.6,276.3 1317.5,276.3" fill="#ffff00" stroke="#800000" stroke-width="6.5" stroke-linejoin="round"/>
<path d="M306.0,830.0 L306.9,828.2 L307.8,826.4 L308.7,824.6 L309.6,822.8 L310.5,821.0 L311.3,819.2 L312.2,817.5 L313.1,815.7 L314.0,813.8 L314.8,812.0 L315.7,810.2 L316.5,808.4 L317.4,806.6 L318.2,804.8 L319.1,803.0 L319.9,801.2 L320.7,799.4 L321.6,797.6 L322.4,795.7 L323.2,793.9 L324.0,792.1 L324.8,790.2 L325.6,788.4 L326.4,786.6 L327.2,784.7 L328.0,782.9 L328.8,781.1 L329.6,779.2 L330.3,777.4 L331.1,775.5 L331.9,773.7 L332.7,771.9 L333.5,770.0 L334.2,768.2 L335.0,766.3 L335.8,764.5 L336.6,762.7 L337.4,760.8 L338.2,759.0 L339.0,757.2 L339.8,755.3 L340.6,753.5 L341.4,751.7 L342.2,749.8 L343.0,748.0 L343.8,746.2 L344.6,744.3 L345.4,742.5 L346.2,740.7 L347.0,738.8 L347.9,737.0 L348.7,735.2 L349.5,733.4 L350.4,731.6 L351.2,729.7 L352.1,727.9 L352.9,726.1 L353.8,724.3 L354.7,722.5 L355.5,720.8 L356.4,719.0 L357.3,717.2 L358.2,715.4 L359.2,713.6 L360.1,711.8 L361.0,710.1 L361.9,708.3 L362.9,706.5 L363.8,704.7 L364.7,703.0 L365.7,701.2 L366.6,699.4 L367.5,697.7 L368.5,695.9 L369.4,694.1 L370.3,692.4 L371.3,690.6 L372.2,688.8 L373.2,687.1 L374.1,685.3 L375.0,683.6 L376.0,681.8 L376.9,680.0 L377.9,678.3 L378.9,676.5 L379.8,674.8 L380.8,673.0 L381.7,671.3 L382.7,669.5 L383.6,667.7 L384.6,666.0 L385.6,664.2 L386.5,662.5 L387.5,660.7 L388.4,659.0 L389.4,657.2 L390.3,655.4 L391.3,653.7 L392.2,651.9 L393.2,650.2 L394.1,648.4 L395.1,646.6 L396.0,644.9 L396.9,643.1 L397.9,641.3 L398.8,639.6 L399.8,637.8 L400.7,636.1 L401.7,634.3 L402.7,632.6 L403.6,630.8 L404.6,629.1 L405.6,627.3 L406.6,625.6 L407.5,623.8 L408.5,622.1 L409.5,620.4 L410.5,618.6 L411.5,616.9 L412.5,615.1 L413.5,613.4 L414.5,611.6 L415.5,609.9 L416.5,608.2 L417.5,606.4 L418.5,604.7 L419.5,603.0 L420.6,601.3 L421.6,599.6 L422.6,597.9 L423.7,596.2 L424.8,594.5 L425.8,592.8 L426.9,591.2 L428.0,589.5 L429.2,587.8 L430.3,586.2 L431.4,584.6 L432.6,582.9 L433.8,581.3 L435.0,579.7 L436.2,578.1 L437.4,576.5 L438.6,574.9 L439.8,573.3 L441.0,571.7 L442.2,570.1 L443.4,568.6 L444.7,567.0 L445.9,565.4 L447.1,563.8 L448.3,562.2 L449.5,560.6 L450.7,559.0 L452.0,557.4 L453.2,555.8 L454.4,554.3 L455.6,552.7 L456.8,551.1 L458.1,549.5 L459.3,547.9 L460.5,546.4 L461.7,544.8 L463.0,543.2 L464.2,541.6 L465.5,540.1 L466.7,538.5 L467.9,536.9 L469.2,535.4 L470.5,533.8 L471.7,532.3 L473.0,530.7 L474.2,529.2 L475.5,527.6 L476.8,526.1 L478.0,524.5 L479.3,523.0 L480.6,521.4 L481.9,519.9 L483.2,518.4 L484.4,516.8 L485.7,515.3 L487.0,513.8 L488.3,512.3 L489.6,510.7 L490.9,509.2 L492.3,507.7 L493.6,506.2 L494.9,504.7 L496.2,503.2 L497.6,501.8 L498.9,500.3 L500.3,498.8 L501.6,497.4 L503.0,495.9 L504.4,494.4 L505.7,493.0 L507.1,491.5 L508.5,490.1 L509.9,488.6 L511.3,487.2 L512.7,485.8 L514.1,484.4 L515.5,482.9 L516.9,481.5 L518.3,480.1 L519.8,478.7 L521.2,477.3 L522.6,475.9 L524.1,474.5 L525.5,473.2 L527.0,471.8 L528.4,470.4 L529.9,469.1 L531.4,467.7 L532.8,466.3 L534.3,465.0 L535.8,463.6 L537.3,462.3 L538.8,461.0 L540.3,459.6 L541.8,458.3 L543.3,457.0 L544.8,455.7 L546.3,454.4 L547.8,453.1 L549.3,451.8 L550.8,450.5 L552.4,449.2 L553.9,447.9 L555.4,446.6 L557.0,445.3 L558.5,444.0 L560.0,442.8 L561.6,441.5 L563.1,440.2 L564.7,439.0 L566.2,437.7 L567.8,436.5 L569.4,435.2 L570.9,434.0 L572.5,432.7 L574.1,431.5 L575.7,430.3 L577.3,429.1 L578.9,427.8 L580.5,426.6 L582.1,425.5 L583.7,424.3 L585.3,423.1 L586.9,421.9 L588.5,420.8 L590.1,419.6 L591.8,418.5 L593.4,417.3 L595.1,416.2 L596.7,415.0 L598.4,413.9 L600.0,412.8 L601.7,411.7 L603.4,410.6 L605.0,409.5 L606.7,408.4 L608.4,407.3 L610.1,406.2 L611.7,405.1 L613.4,404.0 L615.1,402.9 L616.8,401.9 L618.5,400.8 L620.2,399.7 L621.9,398.7 L623.5,397.6 L625.2,396.5 L626.9,395.5 L628.6,394.4 L630.4,393.4 L632.1,392.3 L633.8,391.3 L635.5,390.3 L637.2,389.2 L638.9,388.2 L640.7,387.2 L642.4,386.2 L644.1,385.2 L645.9,384.3 L647.6,383.3 L649.4,382.3 L651.1,381.4 L652.9,380.5 L654.7,379.5 L656.5,378.6 L658.2,377.7 L660.0,376.8 L661.8,375.9 L663.6,375.1 L665.4,374.2 L667.2,373.3 L669.0,372.5 L670.8,371.6 L672.6,370.8 L674.5,369.9 L676.3,369.1 L678.1,368.2 L679.9,367.4 L681.7,366.5 L683.5,365.7 L685.3,364.8 L687.2,364.0 L689.0,363.1 L690.8,362.3 L692.6,361.4 L694.4,360.6 L696.2,359.7 L698.0,358.9 L699.8,358.0 L701.7,357.2 L703.5,356.4 L705.3,355.5 L707.1,354.7 L708.9,353.9 L710.8,353.1 L712.6,352.3 L714.4,351.5 L716.3,350.7 L718.1,350.0 L720.0,349.2 L721.8,348.5 L723.7,347.7 L725.5,347.0 L727.4,346.3 L729.3,345.6 L731.2,344.9 L733.0,344.2 L734.9,343.5 L736.8,342.8 L738.7,342.1 L740.6,341.5 L742.5,340.8 L744.3,340.2 L746.2,339.5 L748.1,338.9 L750.0,338.2 L751.9,337.6 L753.8,337.0 L755.7,336.4 L757.6,335.8 L759.5,335.2 L761.4,334.6 L763.4,334.0 L765.3,333.4 L767.2,332.8 L769.1,332.3 L771.0,331.7 L773.0,331.2 L774.9,330.6 L776.8,330.1 L778.7,329.5 L780.7,329.0 L782.6,328.5 L784.5,328.0 L786.4,327.4 L788.4,326.9 L790.3,326.4 L792.2,325.8 L794.2,325.3 L796.1,324.8 L798.0,324.3 L800.0,323.7 L801.9,323.2 L803.8,322.7 L805.7,322.2 L807.7,321.7 L809.6,321.1 L811.5,320.6 L813.5,320.1 L815.4,319.6 L817.3,319.1 L819.3,318.6 L821.2,318.1 L823.2,317.6 L825.1,317.1 L827.0,316.6 L829.0,316.2 L830.9,315.7 L832.9,315.2 L834.8,314.7 L836.7,314.2 L838.7,313.8 L840.6,313.3 L842.6,312.8 L844.5,312.3 L846.5,311.9 L848.4,311.4 L850.4,311.0 L852.3,310.5 L854.2,310.0 L856.2,309.6 L858.1,309.2 L860.1,308.7 L862.1,308.3 L864.0,307.9 L866.0,307.4 L867.9,307.0 L869.9,306.6 L871.8,306.2 L873.8,305.8 L875.7,305.4 L877.7,305.0 L879.7,304.7 L881.6,304.3 L883.6,303.9 L885.6,303.5 L887.5,303.1 L889.5,302.8 L891.5,302.4 L893.4,302.1 L895.4,301.7 L897.4,301.4 L899.3,301.0 L901.3,300.7 L903.3,300.4 L905.3,300.0 L907.2,299.7 L909.2,299.4 L911.2,299.1 L913.2,298.8 L915.1,298.5 L917.1,298.2 L919.1,298.0 L921.1,297.7 L923.1,297.4 L925.0,297.2 L927.0,296.9 L929.0,296.6 L931.0,296.4 L933.0,296.1 L935.0,295.8 L936.9,295.6 L938.9,295.3 L940.9,295.0 L942.9,294.8 L944.9,294.5 L946.8,294.2 L948.8,293.9 L950.8,293.6 L952.8,293.3 L954.8,293.0 L956.7,292.7 L958.7,292.5 L960.7,292.2 L962.7,291.9 L964.7,291.6 L966.6,291.3 L968.6,291.0 L970.6,290.7 L972.6,290.4 L974.5,290.1 L976.5,289.9 L978.5,289.6 L980.5,289.3 L982.5,289.0 L984.5,288.8 L986.4,288.5 L988.4,288.3 L990.4,288.0 L992.4,287.8 L994.4,287.5 L996.4,287.3 L998.3,287.0 L1000.3,286.8 L1002.3,286.5 L1004.3,286.3 L1006.3,286.0 L1008.3,285.8 L1010.3,285.6 L1012.2,285.4 L1014.2,285.1 L1016.2,284.9 L1018.2,284.7 L1020.2,284.5 L1022.2,284.3 L1024.2,284.1 L1026.2,284.0 L1028.2,283.8 L1030.1,283.6 L1032.1,283.5 L1034.1,283.3 L1036.1,283.1 L1038.1,283.0 L1040.1,282.8 L1042.1,282.7 L1044.1,282.5 L1046.1,282.4 L1048.1,282.3 L1050.1,282.1 L1052.1,282.0 L1054.1,281.8 L1056.1,281.7 L1058.1,281.5 L1060.1,281.4 L1062.1,281.3 L1064.1,281.1 L1066.0,281.0 L1068.0,280.8 L1070.0,280.7 L1072.0,280.6 L1074.0,280.4 L1076.0,280.3 L1078.0,280.1 L1080.0,280.0 L1082.0,279.9 L1084.0,279.7 L1086.0,279.6 L1088.0,279.5 L1090.0,279.3 L1092.0,279.2 L1094.0,279.1 L1096.0,278.9 L1098.0,278.8 L1100.0,278.6 L1102.0,278.5 L1104.0,278.4 L1105.9,278.2 L1107.9,278.1 L1109.9,277.9 L1111.9,277.8 L1113.9,277.6 L1115.9,277.4 L1117.9,277.3 L1119.9,277.1 L1121.9,277.0 L1123.9,276.8 L1125.9,276.7 L1127.9,276.6 L1129.9,276.4 L1131.9,276.3 L1133.9,276.1 L1135.9,276.0 L1137.9,275.9 L1139.9,275.8 L1141.9,275.7 L1143.8,275.6 L1145.8,275.5 L1147.8,275.4 L1149.8,275.2 L1151.8,275.2 L1153.8,275.1 L1155.8,275.0 L1157.8,274.9 L1159.8,274.8 L1161.8,274.7 L1163.8,274.6 L1165.8,274.5 L1167.8,274.4 L1169.8,274.3 L1171.8,274.2 L1173.8,274.2 L1175.8,274.1 L1177.8,274.0 L1179.8,273.9 L1181.8,273.8 L1183.8,273.7 L1185.8,273.6 L1187.8,273.5 L1189.8,273.4 L1191.8,273.4 L1193.8,273.3 L1195.8,273.2 L1197.8,273.1 L1199.8,273.0 L1201.8,272.9 L1203.8,272.9 L1205.8,272.8 L1207.8,272.7 L1209.8,272.6 L1211.8,272.5 L1213.8,272.5 L1215.8,272.4 L1217.8,272.3 L1219.8,272.2 L1221.8,272.1 L1223.8,272.1 L1225.8,272.0 L1227.8,271.9 L1229.8,271.9 L1231.8,271.8 L1233.8,271.7 L1235.8,271.6 L1237.7,271.6 L1239.7,271.5 L1241.7,271.4 L1243.7,271.4 L1245.7,271.3 L1247.7,271.2 L1249.7,271.2 L1251.7,271.1 L1253.7,271.0 L1255.7,270.9 L1257.7,270.9 L1259.7,270.8 L1261.7,270.7 L1263.7,270.6 L1265.7,270.5 L1267.7,270.5 L1269.7,270.4 L1271.7,270.3 L1273.7,270.2 L1275.7,270.1 L1277.7,270.1 L1279.7,270.0 L1281.7,269.9 L1283.7,269.9 L1285.7,269.8 L1287.7,269.7 L1289.7,269.7 L1291.7,269.6 L1293.7,269.6 L1295.7,269.5 L1297.7,269.5 L1299.7,269.4 L1301.7,269.4 L1303.7,269.3 L1305.7,269.3 L1307.7,269.2 L1309.7,269.2 L1311.7,269.1 L1313.7,269.1 L1315.7,269.1 L1317.7,269.0 L1319.7,269.0 L1321.7,269.0 L1323.7,268.9 L1325.7,268.9 L1327.7,268.9 L1329.7,268.8 L1331.7,268.8 L1333.7,268.8 L1335.7,268.7 L1337.7,268.7 L1339.7,268.7 L1341.7,268.6 L1343.7,268.6 L1345.7,268.6 L1347.7,268.6 L1349.7,268.5 L1351.7,268.5 L1353.7,268.5 L1355.7,268.5 L1357.7,268.4 L1359.7,268.4 L1361.7,268.4 L1363.7,268.4 L1365.7,268.3 L1367.7,268.3 L1369.7,268.3 L1371.7,268.3 L1373.7,268.3 L1375.7,268.2 L1377.7,268.2 L1379.7,268.2 L1381.7,268.2 L1383.7,268.1 L1385.7,268.1 L1387.7,268.1 L1389.7,268.1 L1391.7,268.1 L1393.7,268.0 L1395.7,268.0 L1397.7,268.0 L1399.7,268.0 L1401.7,268.0 L1403.7,267.9 L1405.7,267.9 L1407.7,267.9 L1409.7,267.9 L1411.7,267.9 L1413.7,267.8 L1415.7,267.8 L1417.7,267.8 L1419.7,267.8 L1421.7,267.8 L1423.7,267.7 L1425.7,267.7 L1427.7,267.7 L1429.7,267.7 L1431.7,267.7 L1433.7,267.6 L1435.7,267.6 L1437.7,267.6 L1439.7,267.6 L1441.7,267.6 L1443.7,267.5 L1445.7,267.5 L1447.7,267.5 L1449.7,267.5 L1451.7,267.4 L1453.7,267.4 L1455.7,267.4 L1457.7,267.3 L1459.7,267.3 L1461.7,267.2 L1463.7,267.2 L1465.7,267.2 L1467.7,267.1 L1469.7,267.1 L1471.7,267.0 L1473.7,267.0 L1475.7,267.0 L1477.7,266.9 L1479.7,266.9 L1481.7,266.9 L1483.7,266.8 L1485.7,266.8 L1487.7,266.8 L1489.7,266.8 L1491.7,266.8 L1493.7,266.7 L1495.7,266.7 L1497.6,266.7 L1499.6,266.7 L1501.6,266.7 L1503.6,266.7 L1505.6,266.6 L1507.6,266.6 L1509.6,266.6 L1511.6,266.6 L1513.6,266.6 L1515.6,266.6 L1517.6,266.5 L1519.6,266.5 L1521.6,266.5 L1523.6,266.5 L1525.6,266.5 L1527.6,266.5 L1529.6,266.5 L1531.6,266.5 L1533.6,266.4 L1535.6,266.4 L1537.6,266.4 L1539.6,266.4 L1541.6,266.4 L1543.6,266.4 L1545.6,266.4 L1547.6,266.4 L1549.6,266.4 L1551.6,266.3 L1553.6,266.3 L1555.6,266.3 L1557.6,266.3 L1559.6,266.3 L1561.6,266.3 L1563.6,266.3 L1565.6,266.3 L1567.6,266.3 L1569.6,266.3 L1571.6,266.3 L1573.6,266.2 L1575.6,266.2 L1577.6,266.2 L1579.6,266.2 L1581.6,266.2 L1583.6,266.2 L1585.6,266.2 L1587.6,266.2 L1589.6,266.2 L1591.6,266.2 L1593.6,266.2 L1595.6,266.2 L1597.6,266.2 L1599.6,266.1 L1601.6,266.1 L1603.6,266.1 L1605.6,266.1 L1607.6,266.1 L1609.6,266.1 L1611.6,266.1 L1613.6,266.1 L1615.6,266.1 L1617.6,266.1 L1619.6,266.1 L1621.6,266.1 L1623.6,266.1 L1625.6,266.1 L1627.6,266.1 L1629.6,266.1 L1631.6,266.0 L1633.6,266.0 L1635.6,266.0 L1637.6,266.0 L1639.6,266.0 L1641.6,266.0 L1643.6,266.0 L1645.6,266.0 L1647.6,266.0 L1649.6,266.0 L1651.6,266.0 L1653.6,266.0 L1655.6,266.0 L1657.6,266.0 L1659.6,266.0 L1661.6,266.0 L1663.6,265.9 L1665.6,265.9 L1667.6,265.9 L1669.6,265.9 L1671.6,265.9 L1673.6,265.9 L1675.6,265.9 L1677.6,265.9 L1679.6,265.9 L1681.6,265.9 L1683.6,265.9 L1685.6,265.9 L1687.6,265.9 L1689.6,265.9 L1691.6,265.8 L1693.6,265.8 L1695.6,265.8 L1697.6,265.8 L1699.6,265.8 L1701.6,265.8 L1703.6,265.8 L1705.6,265.8 L1707.6,265.8 L1709.6,265.8 L1711.6,265.8 L1713.6,265.8 L1715.6,265.7 L1717.6,265.7 L1719.6,265.7 L1721.6,265.7 L1723.6,265.7 L1725.6,265.7 L1727.6,265.7 L1729.6,265.7 L1731.6,265.7 L1733.6,265.7 L1735.6,265.7 L1737.6,265.6 L1739.6,265.6 L1741.6,265.6 L1743.6,265.6 L1745.6,265.6 L1747.6,265.6 L1749.6,265.6 L1751.6,265.6 L1753.6,265.6 L1755.6,265.6 L1757.6,265.6 L1759.6,265.5 L1761.6,265.5 L1763.6,265.5 L1765.6,265.5 L1767.6,265.5 L1769.6,265.5 L1771.6,265.5 L1773.6,265.5 L1775.6,265.5 L1777.6,265.5 L1779.6,265.4 L1781.6,265.4 L1783.6,265.4 L1785.6,265.4 L1787.6,265.4 L1789.6,265.4 L1791.6,265.4 L1793.6,265.4 L1795.6,265.4 L1797.6,265.4 L1799.6,265.4 L1801.6,265.3 L1803.6,265.3 L1805.6,265.3 L1807.6,265.3 L1809.6,265.3 L1811.6,265.3 L1813.6,265.3 L1815.6,265.3 L1817.6,265.3 L1819.6,265.3 L1821.6,265.3 L1823.6,265.3 L1825.6,265.2 L1827.6,265.2 L1829.6,265.2 L1831.6,265.2 L1833.6,265.2 L1835.6,265.2 L1837.6,265.2 L1839.6,265.2 L1841.6,265.2 L1843.6,265.2 L1845.6,265.2 L1847.6,265.2 L1849.6,265.2 L1851.6,265.1 L1853.6,265.1 L1855.6,265.1 L1857.6,265.1 L1859.6,265.1 L1861.6,265.1 L1863.6,265.1 L1865.6,265.1 L1867.6,265.1 L1869.6,265.1 L1871.6,265.1 L1873.6,265.1 L1875.6,265.1 L1877.6,265.1 L1879.6,265.1 L1881.6,265.0 L1883.6,265.0 L1885.6,265.0 L1887.6,265.0 L1889.6,265.0 L1891.6,265.0 L1893.6,265.0 L1895.6,265.0 L1897.6,265.0 L1899.6,265.0 L1901.6,265.0 L1903.6,265.0 L1905.6,265.0 L1907.6,265.0 L1909.6,265.0 L1911.6,265.0 L1913.6,265.0 L1915.6,265.0 L1917.6,265.0 L1919.6,265.0 L1921.6,265.0 L1923.6,265.0 L1925.6,264.9 L1927.6,264.9 L1929.6,264.9 L1931.6,264.9 L1933.6,264.9 L1935.6,264.9 L1937.6,264.9 L1939.6,264.9 L1941.6,264.9 L1943.6,264.9 L1945.6,264.9 L1947.6,264.9 L1949.6,264.9 L1951.6,264.9 L1953.6,264.9 L1955.6,264.9 L1957.6,264.9 L1959.6,264.9 L1961.6,264.9 L1963.6,264.9 L1965.6,264.9 L1967.6,264.9 L1969.6,264.9 L1971.6,264.9 L1973.6,264.9 L1975.6,264.9 L1977.6,264.9 L1979.6,264.8 L1981.6,264.8 L1983.6,264.8 L1985.6,264.8 L1987.6,264.8 L1989.6,264.8 L1991.6,264.8 L1993.6,264.8 L1995.6,264.8 L1997.6,264.8 L1999.6,264.8 L2001.6,264.8 L2003.6,264.8 L2005.6,264.8 L2007.6,264.8 L2009.6,264.8 L2011.6,264.8 L2013.6,264.8 L2015.6,264.8 L2017.6,264.8 L2019.6,264.8 L2021.6,264.8 L2023.6,264.8 L2025.6,264.8 L2027.6,264.8 L2029.6,264.8 L2031.6,264.8 L2033.6,264.8 L2035.6,264.8 L2037.6,264.8 L2039.6,264.8 L2041.6,264.8 L2043.6,264.8 L2045.6,264.8 L2047.6,264.8 L2049.6,264.8 L2051.6,264.7 L2053.6,264.7 L2055.6,264.7 L2057.6,264.7 L2059.6,264.7 L2061.6,264.7 L2063.6,264.7 L2065.6,264.7 L2067.6,264.7 L2069.6,264.7 L2071.6,264.7 L2073.6,264.7 L2075.6,264.7 L2077.6,264.7 L2079.6,264.7 L2081.6,264.7 L2083.6,264.7 L2085.6,264.7 L2087.6,264.7 L2089.6,264.7 L2091.6,264.7 L2093.6,264.7 L2095.6,264.7 L2097.6,264.7 L2099.6,264.7 L2101.6,264.7 L2103.6,264.7 L2105.6,264.7 L2107.6,264.7 L2109.6,264.7 L2111.6,264.7 L2113.6,264.7 L2115.6,264.7 L2117.5,264.7 L2119.5,264.7 L2121.5,264.7 L2123.5,264.7 L2125.5,264.7 L2127.5,264.7 L2129.5,264.7 L2131.5,264.7 L2133.5,264.7 L2135.5,264.7 L2137.5,264.7 L2139.5,264.7 L2141.5,264.7 L2143.5,264.7 L2145.5,264.7 L2147.5,264.7 L2149.5,264.7 L2151.5,264.7 L2153.5,264.7 L2155.5,264.7 L2157.5,264.6 L2159.5,264.6 L2161.5,264.6 L2163.5,264.6 L2165.5,264.6 L2167.5,264.6 L2169.5,264.6 L2171.5,264.6 L2173.5,264.6 L2175.5,264.6 L2177.5,264.6 L2179.5,264.6 L2181.5,264.6 L2183.5,264.6 L2185.5,264.6 L2187.5,264.6 L2189.5,264.6 L2191.5,264.6 L2193.5,264.6 L2195.5,264.6 L2197.5,264.6 L2199.5,264.6 L2201.5,264.6 L2203.5,264.6 L2205.5,264.6 L2207.5,264.6 L2209.5,264.6 L2211.5,264.6 L2213.5,264.6 L2215.5,264.6 L2217.5,264.6 L2219.5,264.6 L2221.5,264.6 L2223.5,264.6 L2225.5,264.6 L2227.5,264.6 L2229.5,264.6 L2231.5,264.6 L2233.5,264.6 L2235.5,264.6 L2237.5,264.6 L2239.5,264.6 L2241.5,264.6 L2243.5,264.6 L2245.5,264.6 L2247.5,264.6 L2249.5,264.6 L2251.5,264.6 L2253.5,264.6 L2255.5,264.6 L2257.5,264.6 L2259.5,264.6 L2261.5,264.6 L2263.5,264.6 L2265.5,264.6 L2267.5,264.6 L2269.5,264.6 L2271.5,264.6 L2273.5,264.6 L2275.5,264.6 L2277.5,264.6 L2279.5,264.6 L2281.5,264.6 L2283.5,264.6 L2285.5,264.6 L2287.5,264.6 L2289.5,264.6 L2291.5,264.5 L2293.5,264.5 L2295.5,264.5 L2297.5,264.5 L2299.5,264.5 L2301.5,264.5 L2303.5,264.5 L2305.5,264.5 L2307.5,264.5 L2309.5,264.5 L2311.5,264.5 L2313.5,264.5 L2315.5,264.5 L2317.5,264.5 L2319.5,264.5 L2321.5,264.5 L2323.5,264.5 L2325.5,264.5 L2327.5,264.5 L2329.5,264.5 L2331.5,264.5 L2333.5,264.5 L2335.5,264.5 L2337.5,264.5 L2339.5,264.5 L2341.5,264.5 L2343.5,264.5 L2345.5,264.5 L2347.5,264.5 L2349.5,264.5 L2351.5,264.5 L2353.5,264.5 L2355.5,264.5 L2357.5,264.5 L2359.5,264.5 L2361.5,264.5 L2363.5,264.5 L2365.5,264.5 L2367.5,264.5 L2369.5,264.5 L2371.5,264.5 L2373.5,264.5 L2375.5,264.5 L2377.5,264.5 L2379.5,264.5 L2381.5,264.5 L2383.5,264.5 L2385.5,264.5 L2387.5,264.5 L2389.5,264.5 L2391.5,264.5 L2393.5,264.5 L2395.5,264.5 L2397.5,264.5 L2399.5,264.5 L2401.5,264.5 L2403.5,264.5 L2405.5,264.5 L2407.5,264.5 L2409.5,264.5 L2411.5,264.5 L2413.5,264.5 L2415.5,264.5 L2417.5,264.5 L2419.5,264.5 L2421.5,264.5 L2423.5,264.5 L2425.5,264.5 L2427.5,264.5 L2429.5,264.5 L2431.5,264.5 L2433.5,264.5 L2435.5,264.5 L2437.5,264.5" fill="none" stroke="#680088" stroke-width="10" stroke-linecap="round" stroke-linejoin="round" stroke-dasharray="14.2 24.4" stroke-dashoffset="8.76"/>
<line x1="364.8" y1="642.1" x2="364.8" y2="692.5" stroke="#800080" stroke-width="7" stroke-linecap="round"/>
<polygon points="364.8,690.8 344.3,655.3 385.3,655.3" fill="#800080"/>
<line x1="364.8" y1="708.8" x2="364.8" y2="749.6" stroke="#800080" stroke-width="7" stroke-linecap="round"/>
<polygon points="364.8,752.7 344.3,717.2 385.3,717.2" fill="#800080"/>
</g>
<g clip-path="url(#cl)">
<line x1="450.9" y1="1054.9" x2="450.9" y2="1119.0" stroke="#800000" stroke-width="7" stroke-linecap="round"/>
<circle cx="450.9" cy="1087.0" r="15.3" fill="#f4a460" stroke="#800000" stroke-width="7"/>
<line x1="468.5" y1="1049.1" x2="468.5" y2="1113.9" stroke="#800000" stroke-width="7" stroke-linecap="round"/>
<circle cx="468.5" cy="1081.5" r="15.3" fill="#f4a460" stroke="#800000" stroke-width="7"/>
<line x1="484.3" y1="1051.9" x2="484.3" y2="1118.3" stroke="#800000" stroke-width="7" stroke-linecap="round"/>
<circle cx="484.3" cy="1085.1" r="15.3" fill="#f4a460" stroke="#800000" stroke-width="7"/>
<line x1="498.9" y1="1023.8" x2="498.9" y2="1091.5" stroke="#800000" stroke-width="7" stroke-linecap="round"/>
<circle cx="498.9" cy="1057.7" r="15.3" fill="#f4a460" stroke="#800000" stroke-width="7"/>
<line x1="513.4" y1="1024.5" x2="513.4" y2="1091.9" stroke="#800000" stroke-width="7" stroke-linecap="round"/>
<circle cx="513.4" cy="1058.2" r="15.3" fill="#f4a460" stroke="#800000" stroke-width="7"/>
<line x1="527.4" y1="1043.7" x2="527.4" y2="1107.9" stroke="#800000" stroke-width="7" stroke-linecap="round"/>
<circle cx="527.4" cy="1075.8" r="15.3" fill="#f4a460" stroke="#800000" stroke-width="7"/>
<line x1="540.4" y1="1031.0" x2="540.4" y2="1095.9" stroke="#800000" stroke-width="7" stroke-linecap="round"/>
<circle cx="540.4" cy="1063.4" r="15.3" fill="#f4a460" stroke="#800000" stroke-width="7"/>
<line x1="552.4" y1="1035.2" x2="552.4" y2="1099.5" stroke="#800000" stroke-width="7" stroke-linecap="round"/>
<circle cx="552.4" cy="1067.4" r="15.3" fill="#f4a460" stroke="#800000" stroke-width="7"/>
<line x1="564.4" y1="1025.3" x2="564.4" y2="1089.6" stroke="#800000" stroke-width="7" stroke-linecap="round"/>
<circle cx="564.4" cy="1057.4" r="15.3" fill="#f4a460" stroke="#800000" stroke-width="7"/>
<line x1="576.0" y1="1031.0" x2="576.0" y2="1095.9" stroke="#800000" stroke-width="7" stroke-linecap="round"/>
<circle cx="576.0" cy="1063.4" r="15.3" fill="#f4a460" stroke="#800000" stroke-width="7"/>
<line x1="587.0" y1="1025.3" x2="587.0" y2="1090.3" stroke="#800000" stroke-width="7" stroke-linecap="round"/>
<circle cx="587.0" cy="1057.8" r="15.3" fill="#f4a460" stroke="#800000" stroke-width="7"/>
<line x1="598.0" y1="1031.0" x2="598.0" y2="1095.9" stroke="#800000" stroke-width="7" stroke-linecap="round"/>
<circle cx="598.0" cy="1063.4" r="15.3" fill="#f4a460" stroke="#800000" stroke-width="7"/>
<line x1="881.2" y1="1011.0" x2="881.2" y2="1078.5" stroke="#800000" stroke-width="7" stroke-linecap="round"/>
<circle cx="881.2" cy="1044.8" r="15.3" fill="#800000"/><path d="M884.5,1029.9 A15.3,15.3 0 0 1 884.5,1059.7 Z" fill="#ffff80"/><circle cx="881.2" cy="1044.8" r="15.3" fill="none" stroke="#800000" stroke-width="7"/>
<line x1="913.1" y1="1038.3" x2="913.1" y2="1103.1" stroke="#800000" stroke-width="7" stroke-linecap="round"/>
<circle cx="913.1" cy="1070.7" r="15.3" fill="#800000"/><path d="M916.4,1055.8 A15.3,15.3 0 0 1 916.4,1085.6 Z" fill="#ffff80"/><circle cx="913.1" cy="1070.7" r="15.3" fill="none" stroke="#800000" stroke-width="7"/>
<line x1="943.6" y1="1035.6" x2="943.6" y2="1100.3" stroke="#800000" stroke-width="7" stroke-linecap="round"/>
<circle cx="943.6" cy="1068.0" r="15.3" fill="#800000"/><path d="M946.9,1053.1 A15.3,15.3 0 0 1 946.9,1082.9 Z" fill="#ffff80"/><circle cx="943.6" cy="1068.0" r="15.3" fill="none" stroke="#800000" stroke-width="7"/>
<line x1="973.0" y1="1028.1" x2="973.0" y2="1094.2" stroke="#800000" stroke-width="7" stroke-linecap="round"/>
<circle cx="973.0" cy="1061.2" r="15.3" fill="#800000"/><path d="M976.3,1046.3 A15.3,15.3 0 0 1 976.3,1076.1 Z" fill="#ffff80"/><circle cx="973.0" cy="1061.2" r="15.3" fill="none" stroke="#800000" stroke-width="7"/>
<line x1="984.6" y1="1037.6" x2="984.6" y2="1102.4" stroke="#800000" stroke-width="7" stroke-linecap="round"/>
<circle cx="984.6" cy="1070.0" r="15.3" fill="#800000"/><path d="M987.9,1055.1 A15.3,15.3 0 0 1 987.9,1084.9 Z" fill="#ffff80"/><circle cx="984.6" cy="1070.0" r="15.3" fill="none" stroke="#800000" stroke-width="7"/>
<line x1="1012.4" y1="1037.6" x2="1012.4" y2="1102.4" stroke="#800000" stroke-width="7" stroke-linecap="round"/>
<circle cx="1012.4" cy="1070.0" r="15.3" fill="#800000"/><path d="M1015.7,1055.1 A15.3,15.3 0 0 1 1015.7,1084.9 Z" fill="#ffff80"/><circle cx="1012.4" cy="1070.0" r="15.3" fill="none" stroke="#800000" stroke-width="7"/>
<line x1="1039.3" y1="1036.3" x2="1039.3" y2="1105.8" stroke="#800000" stroke-width="7" stroke-linecap="round"/>
<circle cx="1039.3" cy="1071.0" r="15.3" fill="#800000"/><path d="M1042.6,1056.1 A15.3,15.3 0 0 1 1042.6,1085.9 Z" fill="#ffff80"/><circle cx="1039.3" cy="1071.0" r="15.3" fill="none" stroke="#800000" stroke-width="7"/>
<line x1="1048.9" y1="1039.0" x2="1048.9" y2="1105.1" stroke="#800000" stroke-width="7" stroke-linecap="round"/>
<circle cx="1048.9" cy="1072.0" r="15.3" fill="#800000"/><path d="M1052.2,1057.1 A15.3,15.3 0 0 1 1052.2,1086.9 Z" fill="#ffff80"/><circle cx="1048.9" cy="1072.0" r="15.3" fill="none" stroke="#800000" stroke-width="7"/>
<line x1="1090.5" y1="1029.3" x2="1090.5" y2="1095.1" stroke="#800000" stroke-width="7" stroke-linecap="round"/>
<circle cx="1090.5" cy="1062.2" r="15.3" fill="#800000"/><path d="M1093.8,1047.3 A15.3,15.3 0 0 1 1093.8,1077.1 Z" fill="#ffff80"/><circle cx="1090.5" cy="1062.2" r="15.3" fill="none" stroke="#800000" stroke-width="7"/>
<line x1="1100.4" y1="1017.8" x2="1100.4" y2="1085.7" stroke="#800000" stroke-width="7" stroke-linecap="round"/>
<circle cx="1100.4" cy="1051.8" r="15.3" fill="#800000"/><path d="M1103.7,1036.9 A15.3,15.3 0 0 1 1103.7,1066.7 Z" fill="#ffff80"/><circle cx="1100.4" cy="1051.8" r="15.3" fill="none" stroke="#800000" stroke-width="7"/>
<line x1="1125.0" y1="1021.1" x2="1125.0" y2="1087.4" stroke="#800000" stroke-width="7" stroke-linecap="round"/>
<circle cx="1125.0" cy="1054.3" r="15.3" fill="#800000"/><path d="M1128.3,1039.4 A15.3,15.3 0 0 1 1128.3,1069.2 Z" fill="#ffff80"/><circle cx="1125.0" cy="1054.3" r="15.3" fill="none" stroke="#800000" stroke-width="7"/>
<line x1="1148.6" y1="1017.2" x2="1148.6" y2="1084.6" stroke="#800000" stroke-width="7" stroke-linecap="round"/>
<circle cx="1148.6" cy="1050.9" r="15.3" fill="#800000"/><path d="M1151.9,1036.0 A15.3,15.3 0 0 1 1151.9,1065.8 Z" fill="#ffff80"/><circle cx="1148.6" cy="1050.9" r="15.3" fill="none" stroke="#800000" stroke-width="7"/>
<line x1="630.4" y1="1014.8" x2="630.4" y2="1082.5" stroke="#800000" stroke-width="7" stroke-linecap="round"/>
<polygon points="630.4,1030.6 648.4,1048.6 630.4,1066.6 612.4,1048.6" fill="#ffff00" stroke="#800000" stroke-width="7" stroke-linejoin="round"/>
<line x1="802.8" y1="959.0" x2="802.8" y2="1032.5" stroke="#800000" stroke-width="7" stroke-linecap="round"/>
<polygon points="802.8,977.4 820.8,995.4 802.8,1013.4 784.8,995.4" fill="#ffff00" stroke="#800000" stroke-width="7" stroke-linejoin="round"/>
<line x1="935.8" y1="952.9" x2="935.8" y2="1027.2" stroke="#800000" stroke-width="7" stroke-linecap="round"/>
<polygon points="935.8,972.2 953.8,990.2 935.8,1008.2 917.8,990.2" fill="#ffff00" stroke="#800000" stroke-width="7" stroke-linejoin="round"/>
<path d="M319.0,1625.0 L319.1,1623.0 L319.1,1621.0 L319.2,1619.0 L319.3,1617.0 L319.4,1615.0 L319.5,1613.0 L319.6,1611.0 L319.7,1609.0 L319.9,1607.0 L320.0,1605.0 L320.1,1603.0 L320.3,1601.0 L320.4,1599.0 L320.6,1597.0 L320.8,1595.1 L321.0,1593.1 L321.2,1591.1 L321.4,1589.1 L321.6,1587.1 L321.9,1585.1 L322.2,1583.1 L322.4,1581.2 L322.7,1579.2 L323.0,1577.2 L323.3,1575.2 L323.6,1573.2 L323.8,1571.3 L324.1,1569.3 L324.4,1567.3 L324.6,1565.3 L324.9,1563.3 L325.1,1561.3 L325.3,1559.3 L325.6,1557.4 L325.8,1555.4 L326.0,1553.4 L326.3,1551.4 L326.5,1549.4 L326.7,1547.4 L327.0,1545.4 L327.2,1543.5 L327.4,1541.5 L327.6,1539.5 L327.9,1537.5 L328.1,1535.5 L328.3,1533.5 L328.6,1531.5 L328.8,1529.5 L329.0,1527.6 L329.2,1525.6 L329.5,1523.6 L329.7,1521.6 L329.9,1519.6 L330.2,1517.6 L330.4,1515.6 L330.7,1513.7 L330.9,1511.7 L331.1,1509.7 L331.4,1507.7 L331.6,1505.7 L331.8,1503.7 L332.1,1501.7 L332.3,1499.8 L332.5,1497.8 L332.8,1495.8 L333.0,1493.8 L333.2,1491.8 L333.5,1489.8 L333.7,1487.8 L333.9,1485.9 L334.1,1483.9 L334.4,1481.9 L334.6,1479.9 L334.8,1477.9 L335.0,1475.9 L335.3,1473.9 L335.5,1471.9 L335.7,1470.0 L335.9,1468.0 L336.2,1466.0 L336.4,1464.0 L336.6,1462.0 L336.8,1460.0 L337.0,1458.0 L337.3,1456.0 L337.5,1454.1 L337.7,1452.1 L337.9,1450.1 L338.2,1448.1 L338.4,1446.1 L338.6,1444.1 L338.8,1442.1 L339.1,1440.1 L339.3,1438.2 L339.5,1436.2 L339.7,1434.2 L340.0,1432.2 L340.2,1430.2 L340.4,1428.2 L340.6,1426.2 L340.9,1424.2 L341.1,1422.3 L341.3,1420.3 L341.6,1418.3 L341.8,1416.3 L342.0,1414.3 L342.3,1412.3 L342.5,1410.3 L342.8,1408.4 L343.0,1406.4 L343.3,1404.4 L343.5,1402.4 L343.8,1400.4 L344.0,1398.4 L344.3,1396.5 L344.5,1394.5 L344.8,1392.5 L345.0,1390.5 L345.3,1388.5 L345.6,1386.5 L345.8,1384.6 L346.1,1382.6 L346.4,1380.6 L346.6,1378.6 L346.9,1376.6 L347.2,1374.7 L347.5,1372.7 L347.8,1370.7 L348.1,1368.7 L348.4,1366.7 L348.7,1364.8 L349.0,1362.8 L349.3,1360.8 L349.7,1358.8 L350.0,1356.9 L350.3,1354.9 L350.6,1352.9 L351.0,1351.0 L351.3,1349.0 L351.7,1347.0 L352.0,1345.0 L352.4,1343.1 L352.7,1341.1 L353.1,1339.1 L353.4,1337.2 L353.8,1335.2 L354.1,1333.2 L354.5,1331.3 L354.9,1329.3 L355.3,1327.3 L355.7,1325.4 L356.1,1323.4 L356.5,1321.5 L356.9,1319.5 L357.3,1317.6 L357.7,1315.6 L358.1,1313.6 L358.5,1311.7 L358.9,1309.7 L359.3,1307.8 L359.8,1305.8 L360.2,1303.8 L360.6,1301.9 L361.0,1299.9 L361.4,1298.0 L361.8,1296.0 L362.1,1294.0 L362.5,1292.1 L362.9,1290.1 L363.3,1288.2 L363.6,1286.2 L364.0,1284.2 L364.4,1282.2 L364.7,1280.3 L365.1,1278.3 L365.4,1276.3 L365.8,1274.4 L366.2,1272.4 L366.6,1270.5 L366.9,1268.5 L367.3,1266.5 L367.7,1264.6 L368.1,1262.6 L368.5,1260.7 L369.0,1258.7 L369.4,1256.8 L369.8,1254.8 L370.3,1252.8 L370.7,1250.9 L371.2,1249.0 L371.6,1247.0 L372.1,1245.1 L372.6,1243.1 L373.1,1241.2 L373.5,1239.2 L374.0,1237.3 L374.5,1235.3 L375.0,1233.4 L375.6,1231.5 L376.1,1229.5 L376.6,1227.6 L377.1,1225.7 L377.7,1223.8 L378.2,1221.9 L378.8,1219.9 L379.4,1218.0 L380.0,1216.1 L380.5,1214.2 L381.2,1212.3 L381.8,1210.4 L382.4,1208.5 L383.0,1206.6 L383.7,1204.7 L384.3,1202.8 L385.0,1200.9 L385.6,1199.0 L386.3,1197.1 L387.0,1195.2 L387.6,1193.4 L388.3,1191.5 L389.0,1189.6 L389.7,1187.7 L390.4,1185.8 L391.1,1184.0 L391.8,1182.1 L392.5,1180.2 L393.2,1178.4 L393.9,1176.5 L394.6,1174.6 L395.3,1172.7 L396.1,1170.9 L396.8,1169.0 L397.6,1167.1 L398.3,1165.3 L399.1,1163.4 L399.9,1161.6 L400.7,1159.7 L401.5,1157.9 L402.3,1156.1 L403.1,1154.3 L404.0,1152.5 L404.8,1150.7 L405.7,1148.9 L406.6,1147.1 L407.5,1145.3 L408.4,1143.6 L409.4,1141.8 L410.3,1140.0 L411.3,1138.2 L412.3,1136.5 L413.3,1134.7 L414.3,1133.0 L415.4,1131.2 L416.5,1129.5 L417.5,1127.8 L418.6,1126.1 L419.8,1124.5 L420.9,1122.8 L422.0,1121.2 L423.2,1119.6 L424.4,1118.1 L425.6,1116.6 L426.9,1115.1 L428.2,1113.6 L429.5,1112.1 L430.8,1110.6 L432.2,1109.1 L433.6,1107.7 L435.0,1106.2 L436.5,1104.8 L438.0,1103.4 L439.5,1102.0 L441.0,1100.7 L442.5,1099.3 L444.1,1098.0 L445.6,1096.7 L447.2,1095.5 L448.8,1094.3 L450.4,1093.1 L452.0,1091.9 L453.6,1090.8 L455.2,1089.7 L456.9,1088.6 L458.5,1087.5 L460.2,1086.4 L461.9,1085.4 L463.6,1084.4 L465.4,1083.4 L467.1,1082.4 L468.9,1081.4 L470.7,1080.5 L472.5,1079.5 L474.3,1078.6 L476.1,1077.7 L478.0,1076.9 L479.8,1076.1 L481.7,1075.3 L483.5,1074.5 L485.4,1073.7 L487.2,1073.0 L489.1,1072.4 L490.9,1071.7 L492.8,1071.1 L494.7,1070.4 L496.6,1069.8 L498.5,1069.2 L500.4,1068.6 L502.3,1068.0 L504.3,1067.5 L506.2,1066.9 L508.1,1066.4 L510.1,1065.9 L512.1,1065.4 L514.0,1064.9 L516.0,1064.4 L517.9,1064.0 L519.9,1063.6 L521.9,1063.2 L523.8,1062.9 L525.8,1062.5 L527.8,1062.2 L529.7,1062.0 L531.7,1061.7 L533.7,1061.4 L535.7,1061.2 L537.6,1061.0 L539.6,1060.7 L541.6,1060.5 L543.6,1060.3 L545.6,1060.1 L547.6,1059.9 L549.6,1059.7 L551.6,1059.5 L553.6,1059.4 L555.6,1059.2 L557.6,1059.1 L559.6,1058.9 L561.6,1058.8 L563.6,1058.7 L565.6,1058.6 L567.6,1058.5 L569.6,1058.4 L571.6,1058.3 L573.6,1058.2 L575.6,1058.1 L577.6,1058.0 L579.6,1057.9 L581.6,1057.8 L583.6,1057.7 L585.6,1057.7 L587.6,1057.6 L589.6,1057.5 L591.6,1057.5 L593.6,1057.4 L595.6,1057.3 L597.6,1057.3 L599.6,1057.3 L601.6,1057.2 L603.6,1057.2 L605.6,1057.2 L607.6,1057.2 L609.6,1057.1 L611.6,1057.1 L613.6,1057.1 L615.6,1057.1 L617.6,1057.1 L619.6,1057.0 L621.6,1057.0 L623.6,1057.0 L625.6,1057.0 L627.6,1057.0 L629.6,1057.0 L631.6,1057.0 L633.6,1056.9 L635.6,1056.9 L637.6,1056.9 L639.6,1056.9 L641.6,1056.9 L643.6,1056.9 L645.6,1056.9 L647.6,1056.9 L649.5,1056.9 L651.5,1056.9 L653.5,1056.9 L655.5,1056.8 L657.5,1056.8 L659.5,1056.8 L661.5,1056.8 L663.5,1056.8 L665.5,1056.8 L667.5,1056.8 L669.5,1056.8 L671.5,1056.8 L673.5,1056.8 L675.5,1056.8 L677.5,1056.8 L679.5,1056.8 L681.5,1056.8 L683.5,1056.8 L685.5,1056.7 L687.5,1056.7 L689.5,1056.7 L691.5,1056.7 L693.5,1056.7 L695.5,1056.7 L697.5,1056.7 L699.5,1056.7 L701.5,1056.7 L703.5,1056.7 L705.5,1056.7 L707.5,1056.7 L709.5,1056.7 L711.5,1056.7 L713.5,1056.7 L715.5,1056.7 L717.5,1056.7 L719.5,1056.7 L721.5,1056.6 L723.5,1056.6 L725.5,1056.6 L727.5,1056.6 L729.5,1056.6 L731.5,1056.6 L733.5,1056.6 L735.5,1056.6 L737.5,1056.6 L739.5,1056.6 L741.5,1056.6 L743.5,1056.6 L745.5,1056.6 L747.5,1056.6 L749.5,1056.6 L751.5,1056.6 L753.5,1056.6 L755.5,1056.6 L757.5,1056.6 L759.5,1056.6 L761.5,1056.6 L763.5,1056.6 L765.5,1056.6 L767.5,1056.6 L769.5,1056.5 L771.5,1056.5 L773.5,1056.5 L775.5,1056.5 L777.5,1056.5 L779.5,1056.5 L781.5,1056.5 L783.5,1056.5 L785.5,1056.5 L787.5,1056.5 L789.5,1056.5 L791.5,1056.5 L793.5,1056.5 L795.5,1056.5 L797.5,1056.5 L799.5,1056.5 L801.5,1056.5 L803.5,1056.5 L805.5,1056.5 L807.5,1056.5 L809.5,1056.5 L811.5,1056.5 L813.5,1056.5 L815.5,1056.5 L817.5,1056.5 L819.5,1056.5 L821.5,1056.5 L823.5,1056.5 L825.5,1056.5 L827.5,1056.5 L829.5,1056.5 L831.5,1056.5 L833.5,1056.5 L835.5,1056.5 L837.5,1056.5 L839.5,1056.4 L841.5,1056.4 L843.5,1056.4 L845.5,1056.4 L847.5,1056.4 L849.5,1056.4 L851.5,1056.4 L853.5,1056.4 L855.5,1056.4 L857.5,1056.4 L859.5,1056.4 L861.5,1056.4 L863.5,1056.4 L865.5,1056.4 L867.5,1056.4 L869.5,1056.4 L871.5,1056.4 L873.5,1056.4 L875.5,1056.4 L877.5,1056.4 L879.5,1056.4 L881.5,1056.4 L883.5,1056.4 L885.5,1056.4 L887.5,1056.4 L889.5,1056.4 L891.5,1056.4 L893.5,1056.4 L895.5,1056.4 L897.5,1056.4 L899.5,1056.4 L901.5,1056.4 L903.5,1056.4 L905.5,1056.4 L907.5,1056.4 L909.5,1056.4 L911.5,1056.4 L913.5,1056.4 L915.5,1056.4 L917.5,1056.4 L919.5,1056.4 L921.5,1056.4 L923.5,1056.4 L925.5,1056.4 L927.5,1056.4 L929.5,1056.4 L931.5,1056.4 L933.5,1056.4 L935.5,1056.4 L937.5,1056.4 L939.5,1056.4 L941.5,1056.4 L943.5,1056.4 L945.5,1056.3 L947.5,1056.3 L949.5,1056.3 L951.5,1056.3 L953.5,1056.3 L955.5,1056.3 L957.5,1056.3 L959.5,1056.3 L961.5,1056.3 L963.5,1056.3 L965.5,1056.3 L967.5,1056.3 L969.5,1056.3 L971.5,1056.3 L973.5,1056.3 L975.5,1056.3 L977.5,1056.3 L979.5,1056.3 L981.5,1056.3 L983.5,1056.3 L985.5,1056.3 L987.5,1056.3 L989.5,1056.3 L991.5,1056.3 L993.5,1056.3 L995.5,1056.3 L997.5,1056.3 L999.5,1056.3 L1001.5,1056.3 L1003.5,1056.3 L1005.5,1056.3 L1007.5,1056.3 L1009.5,1056.3 L1011.5,1056.3 L1013.5,1056.3 L1015.5,1056.3 L1017.5,1056.3 L1019.5,1056.3 L1021.5,1056.3 L1023.5,1056.3 L1025.5,1056.3 L1027.5,1056.3 L1029.5,1056.3 L1031.5,1056.3 L1033.5,1056.3 L1035.5,1056.3 L1037.5,1056.3 L1039.5,1056.3 L1041.5,1056.3 L1043.5,1056.3 L1045.5,1056.3 L1047.5,1056.3 L1049.5,1056.3 L1051.5,1056.2 L1053.5,1056.2 L1055.5,1056.2 L1057.5,1056.2 L1059.5,1056.2 L1061.5,1056.2 L1063.5,1056.2 L1065.5,1056.2 L1067.5,1056.2 L1069.5,1056.2 L1071.5,1056.2 L1073.5,1056.2 L1075.5,1056.2 L1077.5,1056.2 L1079.5,1056.2 L1081.5,1056.2 L1083.5,1056.2 L1085.5,1056.2 L1087.5,1056.2 L1089.5,1056.2 L1091.5,1056.2 L1093.5,1056.2 L1095.5,1056.2 L1097.5,1056.2 L1099.5,1056.2 L1101.5,1056.2 L1103.5,1056.2 L1105.5,1056.2 L1107.5,1056.2 L1109.5,1056.2 L1111.5,1056.2 L1113.5,1056.2 L1115.5,1056.2 L1117.5,1056.2 L1119.5,1056.2 L1121.5,1056.2 L1123.5,1056.2 L1125.5,1056.2 L1127.5,1056.2 L1129.5,1056.2 L1131.5,1056.2 L1133.5,1056.2 L1135.5,1056.2 L1137.5,1056.2 L1139.5,1056.2 L1141.5,1056.2 L1143.5,1056.2 L1145.5,1056.2 L1147.5,1056.2 L1149.5,1056.1 L1151.5,1056.1 L1153.5,1056.1 L1155.5,1056.1 L1157.5,1056.1 L1159.5,1056.1 L1161.5,1056.1 L1163.5,1056.1 L1165.5,1056.1 L1167.5,1056.1 L1169.5,1056.1 L1171.5,1056.1 L1173.5,1056.1 L1175.5,1056.1 L1177.5,1056.1 L1179.5,1056.1 L1181.5,1056.1 L1183.5,1056.1 L1185.5,1056.1 L1187.5,1056.1 L1189.5,1056.1 L1191.5,1056.1 L1193.5,1056.1 L1195.5,1056.1 L1197.5,1056.1 L1199.5,1056.1 L1201.5,1056.1 L1203.5,1056.1 L1205.5,1056.1 L1207.5,1056.1 L1209.5,1056.1 L1211.5,1056.1 L1213.5,1056.1 L1215.5,1056.1 L1217.5,1056.1 L1219.5,1056.1 L1221.5,1056.1 L1223.5,1056.1 L1225.5,1056.1 L1227.5,1056.1 L1229.5,1056.1 L1231.5,1056.1 L1233.5,1056.1 L1235.5,1056.1 L1237.5,1056.1 L1239.5,1056.1 L1241.5,1056.1 L1243.5,1056.1 L1245.5,1056.1 L1247.5,1056.1 L1249.5,1056.0 L1251.5,1056.0 L1253.5,1056.0 L1255.5,1056.0 L1257.5,1056.0 L1259.5,1056.0 L1261.5,1056.0 L1263.5,1056.0 L1265.5,1056.0 L1267.5,1056.0 L1269.5,1056.0 L1271.5,1056.0 L1273.5,1056.0 L1275.5,1056.0 L1277.5,1056.0 L1279.5,1056.0 L1281.5,1056.0 L1283.5,1056.0 L1285.5,1056.0 L1287.5,1056.0 L1289.5,1056.0 L1291.5,1056.0 L1293.5,1056.0 L1295.5,1056.0 L1297.5,1056.0" fill="none" stroke="#b0540a" stroke-width="9.5" stroke-linecap="round" stroke-linejoin="round" stroke-dasharray="13.5 25.1" stroke-dashoffset="22.16"/>
<line x1="330.5" y1="1353.8" x2="330.5" y2="1396.8" stroke="#800000" stroke-width="7" stroke-linecap="round"/>
<circle cx="330.5" cy="1375.2" r="19.2" fill="#800000"/>
<line x1="330.5" y1="1533.5" x2="330.5" y2="1539.5" stroke="#800000" stroke-width="7" stroke-linecap="round"/>
<circle cx="330.5" cy="1536.8" r="19.2" fill="#800000"/>
</g>
<text transform="translate(255.3,179.9) scale(1,1.055)" font-size="63.5" text-anchor="end">1.2</text>
<text transform="translate(255.3,334.3) scale(1,1.055)" font-size="63.5" text-anchor="end">1.0</text>
<text transform="translate(255.3,488.7) scale(1,1.055)" font-size="63.5" text-anchor="end">0.8</text>
<text transform="translate(255.3,643.1) scale(1,1.055)" font-size="63.5" text-anchor="end">0.6</text>
<text transform="translate(255.3,797.5) scale(1,1.055)" font-size="63.5" text-anchor="end">0.4</text>
<text transform="translate(255.3,914.7) scale(1,1.055)" font-size="63.5" text-anchor="end">1.2</text>
<text transform="translate(255.3,1055.0) scale(1,1.055)" font-size="63.5" text-anchor="end">1.0</text>
<text transform="translate(255.3,1195.3) scale(1,1.055)" font-size="63.5" text-anchor="end">0.8</text>
<text transform="translate(255.3,1335.6) scale(1,1.055)" font-size="63.5" text-anchor="end">0.6</text>
<text transform="translate(255.3,1475.8) scale(1,1.055)" font-size="63.5" text-anchor="end">0.4</text>
<text transform="translate(255.3,1616.1) scale(1,1.055)" font-size="63.5" text-anchor="end">0.2</text>
<text transform="translate(484.5,1659.2) scale(1,1.055)" font-size="63.5" text-anchor="middle">0.1</text>
<text transform="translate(755.8,1659.2) scale(1,1.055)" font-size="63.5" text-anchor="middle">0.2</text>
<text transform="translate(1027.0,1659.2) scale(1,1.055)" font-size="63.5" text-anchor="middle">0.3</text>
<text transform="translate(1298.2,1659.2) scale(1,1.055)" font-size="63.5" text-anchor="middle">0.4</text>
<text transform="translate(1569.5,1659.2) scale(1,1.055)" font-size="63.5" text-anchor="middle">0.5</text>
<text transform="translate(1840.8,1659.2) scale(1,1.055)" font-size="63.5" text-anchor="middle">0.6</text>
<text transform="translate(2112.0,1659.2) scale(1,1.055)" font-size="63.5" text-anchor="middle">0.7</text>
<text transform="translate(2383.2,1659.2) scale(1,1.055)" font-size="63.5" text-anchor="middle">0.8</text>
<text transform="translate(593.0,127.8) scale(1,1.055)" font-size="63.5" text-anchor="middle">2</text>
<text transform="translate(972.7,127.8) scale(1,1.055)" font-size="63.5" text-anchor="middle">4</text>
<text transform="translate(1352.4,127.8) scale(1,1.055)" font-size="63.5" text-anchor="middle">6</text>
<text transform="translate(1732.2,127.8) scale(1,1.055)" font-size="63.5" text-anchor="middle">8</text>
<text transform="translate(2111.9,127.8) scale(1,1.055)" font-size="63.5" text-anchor="middle">10</text>
<text transform="translate(507.9,908.8) scale(1,1.055)" font-size="63.5" text-anchor="middle">2</text>
<text transform="translate(802.6,908.8) scale(1,1.055)" font-size="63.5" text-anchor="middle">4</text>
<text transform="translate(1097.2,908.8) scale(1,1.055)" font-size="63.5" text-anchor="middle">6</text>
<text transform="translate(1391.9,908.8) scale(1,1.055)" font-size="63.5" text-anchor="middle">8</text>
<text transform="translate(1686.5,908.8) scale(1,1.055)" font-size="63.5" text-anchor="middle">10</text>
<text transform="translate(1981.2,908.8) scale(1,1.055)" font-size="63.5" text-anchor="middle">12</text>
<text transform="translate(2275.8,908.8) scale(1,1.055)" font-size="63.5" text-anchor="middle">14</text>
<text transform="translate(2198.0,156.8) scale(1,1.092)" font-size="71.5">V<tspan font-weight="normal">/</tspan>v</text>
<text transform="translate(2306.8,178.2) scale(1,1.04)" font-size="48.5">0</text>
<text transform="translate(2088.4,968.0) scale(1,1.092)" font-size="71.5">V<tspan font-weight="normal">/</tspan>v</text>
<text transform="translate(2199.3,989.4) scale(1,1.04)" font-size="48.5">0</text>
<text transform="translate(1171.2,1747.2) scale(1,1.047)" font-size="69">(</text>
<text transform="translate(1198.7,1748.2) scale(1,1.092)" font-size="71.5">V<tspan font-weight="normal">/</tspan>v</text>
<text transform="translate(1306.7,1769.0) scale(1,1.04)" font-size="48.5">0</text>
<text transform="translate(1336.2,1747.2) scale(1,1.047)" font-size="69">)</text>
<text transform="translate(1379.5,1748.2) scale(1,1.047)" font-size="74.6"><tspan font-weight="normal">/</tspan></text>
<text transform="translate(1419.4,1748.2) scale(1,1.047)" font-size="74.6">Z</text>
<text transform="translate(1466.1,1706.4) scale(1,1.06)" font-size="46.7">2<tspan font-weight="normal">/</tspan>3</text>
<text transform="translate(1465.9,1768.5) scale(1,1.06)" font-size="47.2">HI</text>
<text transform="rotate(-90) translate(-1070.3,122.8) scale(1,1.047)" font-size="74.6">SP</text>
<text transform="rotate(-90) translate(-971.9,81.8) scale(1,1.04)" font-size="49.1">expt</text>
<text transform="rotate(-90) translate(-970.4,144.8) scale(1,1.04)" font-size="47.1">tot</text>
<text transform="rotate(-90) translate(-848.0,123.5) scale(1,1.047)" font-size="74.6"><tspan font-weight="normal">/</tspan></text>
<text transform="rotate(-90) translate(-806.0,123.0) scale(1,1.047)" font-size="74.6">SP</text>
<text transform="rotate(-90) translate(-703.4,81.6) scale(1,1.04)" font-size="48.3">SRIM</text>
<text transform="rotate(-90) translate(-703.3,144.5) scale(1,1.04)" font-size="47.1">tot</text>
<rect x="354" y="143" width="109" height="104" fill="#404040"/>
<rect x="332" y="122" width="116" height="110" fill="#404040"/>
<rect x="340" y="129" width="101" height="96" fill="#fff"/>
<text transform="translate(350.1,201.1) scale(1,1.1)" font-size="67.2" fill="#800000">Xe</text>
<rect x="345" y="896" width="117" height="104" fill="#404040"/>
<rect x="324" y="875" width="123" height="110" fill="#404040"/>
<rect x="331" y="882" width="109" height="96" fill="#fff"/>
<text transform="translate(339.8,953.7) scale(1,1.067)" font-size="68.7" fill="#808000">Au</text>
<polygon points="1947.5,433.0 1952.1,447.2 1967.0,447.2 1954.9,455.9 1959.5,470.1 1947.5,461.3 1935.5,470.1 1940.1,455.9 1928.0,447.2 1942.9,447.2" fill="#8000ff" stroke="#8000ff" stroke-width="6.5" stroke-linejoin="round"/>
<text transform="translate(2023.5,471.9) scale(1,1.05)" font-size="52.3">Pape <tspan font-style="italic">et al</tspan>.</text>
<polygon points="1947.5,496.3 1927.0,531.8 1968.0,531.8" fill="#404040"/>
<text transform="translate(2023.8,537.9) scale(1,1.05)" font-size="52.3">Geissel <tspan font-style="italic">et al</tspan>.</text>
<polygon points="1947.5,568.2 1930.5,596.2 1964.5,596.2" fill="#ffb4e1" stroke="#800080" stroke-width="7" stroke-linejoin="round"/>
<text transform="translate(2023.8,604.5) scale(1,1.05)" font-size="52.3">Trzaska <tspan font-style="italic">et al</tspan>.</text>
<polygon points="1947.5,632.3 1952.1,646.5 1967.0,646.5 1954.9,655.2 1959.5,669.4 1947.5,660.6 1935.5,669.4 1940.1,655.2 1928.0,646.5 1942.9,646.5" fill="#ffff00" stroke="#800000" stroke-width="6.5" stroke-linejoin="round"/>
<text transform="translate(2023.8,670.5) scale(1,1.05)" font-size="52.3">Echler <tspan font-style="italic">et al</tspan>.</text>
<polygon points="1947.5,742.7 1927.0,707.2 1968.0,707.2" fill="#800080"/>
<text transform="translate(2023.8,737.9) scale(1,1.05)" font-size="52.3">Lennard <tspan font-style="italic">et al</tspan>.</text>
<circle cx="1845.6" cy="1296.4" r="15.3" fill="#f4a460" stroke="#800000" stroke-width="7"/>
<text transform="translate(1921.5,1314.7) scale(1,1.05)" font-size="52.3">Jokinen</text>
<circle cx="1845.6" cy="1362.8" r="15.3" fill="#800000"/><path d="M1848.9,1347.9 A15.3,15.3 0 0 1 1848.9,1377.7 Z" fill="#ffff80"/><circle cx="1845.6" cy="1362.8" r="15.3" fill="none" stroke="#800000" stroke-width="7"/>
<text transform="translate(1921.5,1380.3) scale(1,1.05)" font-size="52.3">Abdesselam <tspan font-style="italic">et al</tspan>.</text>
<circle cx="1845.6" cy="1429.5" r="19.2" fill="#800000"/>
<text transform="translate(1921.5,1448.0) scale(1,1.05)" font-size="52.3">Lennard <tspan font-style="italic">et al</tspan>.</text>
<polygon points="1845.6,1477.6 1863.6,1495.6 1845.6,1513.6 1827.6,1495.6" fill="#ffff00" stroke="#800000" stroke-width="7" stroke-linejoin="round"/>
<text transform="translate(1921.5,1513.7) scale(1,1.05)" font-size="52.3">IAEA TECDOC</text>
</svg>
</body></html>
